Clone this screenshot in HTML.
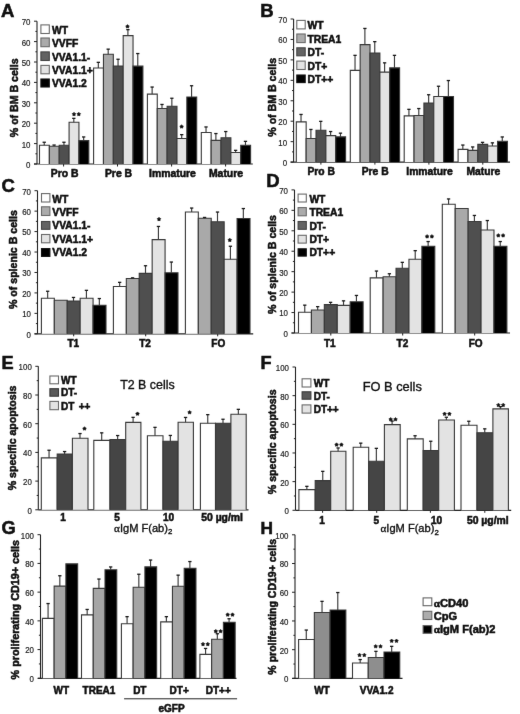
<!DOCTYPE html>
<html><head><meta charset="utf-8"><style>
html,body{margin:0;padding:0;background:#fff;}
body{width:520px;height:714px;overflow:hidden;}
svg{display:block;filter:grayscale(1);font-family:"Liberation Sans",sans-serif;}
</style></head><body>
<svg width="520" height="714" viewBox="0 0 520 714">
<defs><filter id="bl" x="0" y="0" width="1" height="1" color-interpolation-filters="sRGB"><feConvolveMatrix order="3" kernelMatrix="0.00276 0.04704 0.00276 0.04704 0.80077 0.04704 0.00276 0.04704 0.00276" divisor="1" edgeMode="duplicate" preserveAlpha="true"/></filter></defs>
<rect width="520" height="714" fill="#fff"/>
<g filter="url(#bl)">
<rect width="520" height="714" fill="#fff"/>
<text x="1" y="17" font-size="18.5" font-weight="bold" text-anchor="start" fill="#111" stroke="#111" stroke-width="0.55">A</text>
<text x="260.3" y="17" font-size="18.5" font-weight="bold" text-anchor="start" fill="#111" stroke="#111" stroke-width="0.55">B</text>
<text x="1.5" y="192.3" font-size="18.5" font-weight="bold" text-anchor="start" fill="#111" stroke="#111" stroke-width="0.55">C</text>
<text x="266.3" y="186.8" font-size="18.5" font-weight="bold" text-anchor="start" fill="#111" stroke="#111" stroke-width="0.55">D</text>
<text x="1.6" y="368.8" font-size="18.2" font-weight="bold" text-anchor="start" fill="#111" stroke="#111" stroke-width="0.55">E</text>
<text x="260.5" y="368.9" font-size="18.2" font-weight="bold" text-anchor="start" fill="#111" stroke="#111" stroke-width="0.55">F</text>
<text x="1.5" y="534" font-size="18.3" font-weight="bold" text-anchor="start" fill="#111" stroke="#111" stroke-width="0.55">G</text>
<text x="260.4" y="533.6" font-size="17.3" font-weight="bold" text-anchor="start" fill="#111" stroke="#111" stroke-width="0.55">H</text>
<line x1="37" y1="21.2" x2="37" y2="164" stroke="#222" stroke-width="1.1"/>
<line x1="34" y1="164" x2="252.8" y2="164" stroke="#222" stroke-width="1.2"/>
<line x1="34" y1="164" x2="37" y2="164" stroke="#222" stroke-width="1"/>
<text transform="translate(30.5,167.91) scale(0.85,1)" font-size="9.3" text-anchor="end" fill="#222" stroke="#222" stroke-width="0.2">0</text>
<line x1="35.4" y1="153.8" x2="37" y2="153.8" stroke="#222" stroke-width="1"/>
<line x1="34" y1="143.6" x2="37" y2="143.6" stroke="#222" stroke-width="1"/>
<text transform="translate(30.5,147.51) scale(0.85,1)" font-size="9.3" text-anchor="end" fill="#222" stroke="#222" stroke-width="0.2">10</text>
<line x1="35.4" y1="133.4" x2="37" y2="133.4" stroke="#222" stroke-width="1"/>
<line x1="34" y1="123.2" x2="37" y2="123.2" stroke="#222" stroke-width="1"/>
<text transform="translate(30.5,127.11) scale(0.85,1)" font-size="9.3" text-anchor="end" fill="#222" stroke="#222" stroke-width="0.2">20</text>
<line x1="35.4" y1="113" x2="37" y2="113" stroke="#222" stroke-width="1"/>
<line x1="34" y1="102.8" x2="37" y2="102.8" stroke="#222" stroke-width="1"/>
<text transform="translate(30.5,106.71) scale(0.85,1)" font-size="9.3" text-anchor="end" fill="#222" stroke="#222" stroke-width="0.2">30</text>
<line x1="35.4" y1="92.6" x2="37" y2="92.6" stroke="#222" stroke-width="1"/>
<line x1="34" y1="82.4" x2="37" y2="82.4" stroke="#222" stroke-width="1"/>
<text transform="translate(30.5,86.31) scale(0.85,1)" font-size="9.3" text-anchor="end" fill="#222" stroke="#222" stroke-width="0.2">40</text>
<line x1="35.4" y1="72.2" x2="37" y2="72.2" stroke="#222" stroke-width="1"/>
<line x1="34" y1="62" x2="37" y2="62" stroke="#222" stroke-width="1"/>
<text transform="translate(30.5,65.91) scale(0.85,1)" font-size="9.3" text-anchor="end" fill="#222" stroke="#222" stroke-width="0.2">50</text>
<line x1="35.4" y1="51.8" x2="37" y2="51.8" stroke="#222" stroke-width="1"/>
<line x1="34" y1="41.6" x2="37" y2="41.6" stroke="#222" stroke-width="1"/>
<text transform="translate(30.5,45.51) scale(0.85,1)" font-size="9.3" text-anchor="end" fill="#222" stroke="#222" stroke-width="0.2">60</text>
<line x1="35.4" y1="31.4" x2="37" y2="31.4" stroke="#222" stroke-width="1"/>
<line x1="34" y1="21.2" x2="37" y2="21.2" stroke="#222" stroke-width="1"/>
<text transform="translate(30.5,25.11) scale(0.85,1)" font-size="9.3" text-anchor="end" fill="#222" stroke="#222" stroke-width="0.2">70</text>
<line x1="63.6" y1="164" x2="63.6" y2="166.5" stroke="#222" stroke-width="1"/>
<line x1="117.5" y1="164" x2="117.5" y2="166.5" stroke="#222" stroke-width="1"/>
<line x1="171.6" y1="164" x2="171.6" y2="166.5" stroke="#222" stroke-width="1"/>
<line x1="225.6" y1="164" x2="225.6" y2="166.5" stroke="#222" stroke-width="1"/>
<rect x="39.5" y="145.3" width="9.86" height="18.7" fill="#ffffff"/>
<path d="M39.5 164V145.3H49.36V164" fill="none" stroke="#383838" stroke-width="1.1"/>
<line x1="44.23" y1="142.2" x2="44.23" y2="145.3" stroke="#3a3a3a" stroke-width="1.15"/>
<rect x="42.58" y="141.6" width="3.3" height="1.3" fill="#1a1a1a"/>
<rect x="49.36" y="146.3" width="9.86" height="17.7" fill="#a9a9a9"/>
<path d="M49.36 164V146.3H59.22V164" fill="none" stroke="#383838" stroke-width="1.1"/>
<line x1="54.09" y1="145" x2="54.09" y2="146.3" stroke="#3a3a3a" stroke-width="1.15"/>
<rect x="52.44" y="144.4" width="3.3" height="1.3" fill="#1a1a1a"/>
<rect x="59.22" y="145.3" width="9.86" height="18.7" fill="#4f4f4f"/>
<path d="M59.22 164V145.3H69.08V164" fill="none" stroke="#383838" stroke-width="1.1"/>
<line x1="63.95" y1="142.2" x2="63.95" y2="145.3" stroke="#3a3a3a" stroke-width="1.15"/>
<rect x="62.3" y="141.6" width="3.3" height="1.3" fill="#1a1a1a"/>
<rect x="69.08" y="122.3" width="9.86" height="41.7" fill="#e3e3e3"/>
<path d="M69.08 164V122.3H78.94V164" fill="none" stroke="#383838" stroke-width="1.1"/>
<line x1="73.81" y1="118.3" x2="73.81" y2="122.3" stroke="#3a3a3a" stroke-width="1.15"/>
<rect x="72.16" y="117.7" width="3.3" height="1.3" fill="#1a1a1a"/>
<rect x="78.94" y="140.6" width="9.86" height="23.4" fill="#000000"/>
<path d="M78.94 164V140.6H88.8V164" fill="none" stroke="#383838" stroke-width="1.1"/>
<line x1="83.67" y1="136.9" x2="83.67" y2="140.6" stroke="#3a3a3a" stroke-width="1.15"/>
<rect x="82.02" y="136.3" width="3.3" height="1.3" fill="#1a1a1a"/>
<rect x="93.6" y="68" width="9.86" height="96" fill="#ffffff"/>
<path d="M93.6 164V68H103.46V164" fill="none" stroke="#383838" stroke-width="1.1"/>
<line x1="98.33" y1="62.3" x2="98.33" y2="68" stroke="#3a3a3a" stroke-width="1.15"/>
<rect x="96.68" y="61.7" width="3.3" height="1.3" fill="#1a1a1a"/>
<rect x="103.46" y="54.2" width="9.86" height="109.8" fill="#a9a9a9"/>
<path d="M103.46 164V54.2H113.32V164" fill="none" stroke="#383838" stroke-width="1.1"/>
<line x1="108.19" y1="49.1" x2="108.19" y2="54.2" stroke="#3a3a3a" stroke-width="1.15"/>
<rect x="106.54" y="48.5" width="3.3" height="1.3" fill="#1a1a1a"/>
<rect x="113.32" y="66.1" width="9.86" height="97.9" fill="#4f4f4f"/>
<path d="M113.32 164V66.1H123.18V164" fill="none" stroke="#383838" stroke-width="1.1"/>
<line x1="118.05" y1="59.2" x2="118.05" y2="66.1" stroke="#3a3a3a" stroke-width="1.15"/>
<rect x="116.4" y="58.6" width="3.3" height="1.3" fill="#1a1a1a"/>
<rect x="123.18" y="35.6" width="9.86" height="128.4" fill="#e3e3e3"/>
<path d="M123.18 164V35.6H133.04V164" fill="none" stroke="#383838" stroke-width="1.1"/>
<line x1="127.91" y1="29.6" x2="127.91" y2="35.6" stroke="#3a3a3a" stroke-width="1.15"/>
<rect x="126.26" y="29" width="3.3" height="1.3" fill="#1a1a1a"/>
<rect x="133.04" y="66.1" width="9.86" height="97.9" fill="#000000"/>
<path d="M133.04 164V66.1H142.9V164" fill="none" stroke="#383838" stroke-width="1.1"/>
<line x1="137.77" y1="53.5" x2="137.77" y2="66.1" stroke="#3a3a3a" stroke-width="1.15"/>
<rect x="136.12" y="52.9" width="3.3" height="1.3" fill="#1a1a1a"/>
<rect x="147.4" y="94.1" width="9.86" height="69.9" fill="#ffffff"/>
<path d="M147.4 164V94.1H157.26V164" fill="none" stroke="#383838" stroke-width="1.1"/>
<line x1="152.13" y1="87" x2="152.13" y2="94.1" stroke="#3a3a3a" stroke-width="1.15"/>
<rect x="150.48" y="86.4" width="3.3" height="1.3" fill="#1a1a1a"/>
<rect x="157.26" y="108.5" width="9.86" height="55.5" fill="#a9a9a9"/>
<path d="M157.26 164V108.5H167.12V164" fill="none" stroke="#383838" stroke-width="1.1"/>
<line x1="161.99" y1="104.4" x2="161.99" y2="108.5" stroke="#3a3a3a" stroke-width="1.15"/>
<rect x="160.34" y="103.8" width="3.3" height="1.3" fill="#1a1a1a"/>
<rect x="167.12" y="106.2" width="9.86" height="57.8" fill="#4f4f4f"/>
<path d="M167.12 164V106.2H176.98V164" fill="none" stroke="#383838" stroke-width="1.1"/>
<line x1="171.85" y1="98.2" x2="171.85" y2="106.2" stroke="#3a3a3a" stroke-width="1.15"/>
<rect x="170.2" y="97.6" width="3.3" height="1.3" fill="#1a1a1a"/>
<rect x="176.98" y="138.5" width="9.86" height="25.5" fill="#e3e3e3"/>
<path d="M176.98 164V138.5H186.84V164" fill="none" stroke="#383838" stroke-width="1.1"/>
<line x1="181.71" y1="134.6" x2="181.71" y2="138.5" stroke="#3a3a3a" stroke-width="1.15"/>
<rect x="180.06" y="134" width="3.3" height="1.3" fill="#1a1a1a"/>
<rect x="186.84" y="97" width="9.86" height="67" fill="#000000"/>
<path d="M186.84 164V97H196.7V164" fill="none" stroke="#383838" stroke-width="1.1"/>
<line x1="191.57" y1="85.7" x2="191.57" y2="97" stroke="#3a3a3a" stroke-width="1.15"/>
<rect x="189.92" y="85.1" width="3.3" height="1.3" fill="#1a1a1a"/>
<rect x="201.3" y="132.5" width="9.86" height="31.5" fill="#ffffff"/>
<path d="M201.3 164V132.5H211.16V164" fill="none" stroke="#383838" stroke-width="1.1"/>
<line x1="206.03" y1="126.9" x2="206.03" y2="132.5" stroke="#3a3a3a" stroke-width="1.15"/>
<rect x="204.38" y="126.3" width="3.3" height="1.3" fill="#1a1a1a"/>
<rect x="211.16" y="140.4" width="9.86" height="23.6" fill="#a9a9a9"/>
<path d="M211.16 164V140.4H221.02V164" fill="none" stroke="#383838" stroke-width="1.1"/>
<line x1="215.89" y1="133.5" x2="215.89" y2="140.4" stroke="#3a3a3a" stroke-width="1.15"/>
<rect x="214.24" y="132.9" width="3.3" height="1.3" fill="#1a1a1a"/>
<rect x="221.02" y="137.8" width="9.86" height="26.2" fill="#4f4f4f"/>
<path d="M221.02 164V137.8H230.88V164" fill="none" stroke="#383838" stroke-width="1.1"/>
<line x1="225.75" y1="131.5" x2="225.75" y2="137.8" stroke="#3a3a3a" stroke-width="1.15"/>
<rect x="224.1" y="130.9" width="3.3" height="1.3" fill="#1a1a1a"/>
<rect x="230.88" y="152.5" width="9.86" height="11.5" fill="#e3e3e3"/>
<path d="M230.88 164V152.5H240.74V164" fill="none" stroke="#383838" stroke-width="1.1"/>
<line x1="235.61" y1="150.3" x2="235.61" y2="152.5" stroke="#3a3a3a" stroke-width="1.15"/>
<rect x="233.96" y="149.7" width="3.3" height="1.3" fill="#1a1a1a"/>
<rect x="240.74" y="145.3" width="9.86" height="18.7" fill="#000000"/>
<path d="M240.74 164V145.3H250.6V164" fill="none" stroke="#383838" stroke-width="1.1"/>
<line x1="245.47" y1="141.3" x2="245.47" y2="145.3" stroke="#3a3a3a" stroke-width="1.15"/>
<rect x="243.82" y="140.7" width="3.3" height="1.3" fill="#1a1a1a"/>
<path d="M74,112.3 L74.71,113.23 L75.81,113.61 L75.14,114.57 L75.12,115.74 L74,115.4 L72.88,115.74 L72.86,114.57 L72.19,113.61 L73.29,113.23Z" fill="#111" stroke="#111" stroke-width="0.6" stroke-linejoin="round"/>
<path d="M78.8,112.3 L79.51,113.23 L80.61,113.61 L79.94,114.57 L79.92,115.74 L78.8,115.4 L77.68,115.74 L77.66,114.57 L76.99,113.61 L78.09,113.23Z" fill="#111" stroke="#111" stroke-width="0.6" stroke-linejoin="round"/>
<path d="M127.5,24.6 L128.21,25.53 L129.31,25.91 L128.64,26.87 L128.62,28.04 L127.5,27.7 L126.38,28.04 L126.36,26.87 L125.69,25.91 L126.79,25.53Z" fill="#111" stroke="#111" stroke-width="0.6" stroke-linejoin="round"/>
<path d="M181.6,124.7 L182.31,125.63 L183.41,126.01 L182.74,126.97 L182.72,128.14 L181.6,127.8 L180.48,128.14 L180.46,126.97 L179.79,126.01 L180.89,125.63Z" fill="#111" stroke="#111" stroke-width="0.6" stroke-linejoin="round"/>
<rect x="40.9" y="24.9" width="8.4" height="8.6" fill="#ffffff" stroke="#6a6a6a" stroke-width="1.1"/>
<text x="52" y="33.6" font-size="10.3" font-weight="bold" text-anchor="start" fill="#111" stroke="#111" stroke-width="0.55">WT</text>
<rect x="40.9" y="38" width="8.4" height="8.7" fill="#ababab" stroke="#6a6a6a" stroke-width="1.1"/>
<text x="52" y="46.9" font-size="10.3" font-weight="bold" text-anchor="start" fill="#111" stroke="#111" stroke-width="0.55">VVFF</text>
<rect x="40.9" y="51.9" width="8.4" height="8.6" fill="#636363" stroke="#444" stroke-width="1.1"/>
<text x="52" y="60.5" font-size="10.3" font-weight="bold" text-anchor="start" fill="#111" stroke="#111" stroke-width="0.55">VVA1.1-</text>
<rect x="40.9" y="65.4" width="8.4" height="8.4" fill="#e3e3e3" stroke="#6a6a6a" stroke-width="1.1"/>
<text x="52" y="73.7" font-size="10.3" font-weight="bold" text-anchor="start" fill="#111" stroke="#111" stroke-width="0.55">VVA1.1+</text>
<rect x="40.9" y="79" width="8.4" height="8" fill="#000000" stroke="#111" stroke-width="1.1"/>
<text x="52" y="87.3" font-size="10.3" font-weight="bold" text-anchor="start" fill="#111" stroke="#111" stroke-width="0.55">VVA1.2</text>
<text x="64.6" y="176.5" font-size="10.4" font-weight="bold" text-anchor="middle" fill="#111" stroke="#111" stroke-width="0.55">Pro B</text>
<text x="118.5" y="176.5" font-size="10.4" font-weight="bold" text-anchor="middle" fill="#111" stroke="#111" stroke-width="0.55">Pre B</text>
<text x="172.5" y="176.5" font-size="10.4" font-weight="bold" text-anchor="middle" fill="#111" stroke="#111" stroke-width="0.55">Immature</text>
<text x="226" y="176.5" font-size="10.4" font-weight="bold" text-anchor="middle" fill="#111" stroke="#111" stroke-width="0.55">Mature</text>
<text transform="translate(18.3,97.8) rotate(-90)" x="0" y="0" font-size="10.6" font-weight="bold" text-anchor="middle" fill="#111" stroke="#111" stroke-width="0.55">% of BM B cells</text>
<line x1="293.6" y1="19" x2="293.6" y2="162.1" stroke="#222" stroke-width="1.1"/>
<line x1="290.6" y1="162.1" x2="510" y2="162.1" stroke="#222" stroke-width="1.2"/>
<line x1="290.6" y1="162.1" x2="293.6" y2="162.1" stroke="#222" stroke-width="1"/>
<text transform="translate(287.1,166.01) scale(0.85,1)" font-size="9.3" text-anchor="end" fill="#222" stroke="#222" stroke-width="0.2">0</text>
<line x1="292" y1="151.88" x2="293.6" y2="151.88" stroke="#222" stroke-width="1"/>
<line x1="290.6" y1="141.66" x2="293.6" y2="141.66" stroke="#222" stroke-width="1"/>
<text transform="translate(287.1,145.56) scale(0.85,1)" font-size="9.3" text-anchor="end" fill="#222" stroke="#222" stroke-width="0.2">10</text>
<line x1="292" y1="131.44" x2="293.6" y2="131.44" stroke="#222" stroke-width="1"/>
<line x1="290.6" y1="121.21" x2="293.6" y2="121.21" stroke="#222" stroke-width="1"/>
<text transform="translate(287.1,125.12) scale(0.85,1)" font-size="9.3" text-anchor="end" fill="#222" stroke="#222" stroke-width="0.2">20</text>
<line x1="292" y1="110.99" x2="293.6" y2="110.99" stroke="#222" stroke-width="1"/>
<line x1="290.6" y1="100.77" x2="293.6" y2="100.77" stroke="#222" stroke-width="1"/>
<text transform="translate(287.1,104.68) scale(0.85,1)" font-size="9.3" text-anchor="end" fill="#222" stroke="#222" stroke-width="0.2">30</text>
<line x1="292" y1="90.55" x2="293.6" y2="90.55" stroke="#222" stroke-width="1"/>
<line x1="290.6" y1="80.33" x2="293.6" y2="80.33" stroke="#222" stroke-width="1"/>
<text transform="translate(287.1,84.23) scale(0.85,1)" font-size="9.3" text-anchor="end" fill="#222" stroke="#222" stroke-width="0.2">40</text>
<line x1="292" y1="70.11" x2="293.6" y2="70.11" stroke="#222" stroke-width="1"/>
<line x1="290.6" y1="59.89" x2="293.6" y2="59.89" stroke="#222" stroke-width="1"/>
<text transform="translate(287.1,63.79) scale(0.85,1)" font-size="9.3" text-anchor="end" fill="#222" stroke="#222" stroke-width="0.2">50</text>
<line x1="292" y1="49.66" x2="293.6" y2="49.66" stroke="#222" stroke-width="1"/>
<line x1="290.6" y1="39.44" x2="293.6" y2="39.44" stroke="#222" stroke-width="1"/>
<text transform="translate(287.1,43.35) scale(0.85,1)" font-size="9.3" text-anchor="end" fill="#222" stroke="#222" stroke-width="0.2">60</text>
<line x1="292" y1="29.22" x2="293.6" y2="29.22" stroke="#222" stroke-width="1"/>
<line x1="290.6" y1="19" x2="293.6" y2="19" stroke="#222" stroke-width="1"/>
<text transform="translate(287.1,22.91) scale(0.85,1)" font-size="9.3" text-anchor="end" fill="#222" stroke="#222" stroke-width="0.2">70</text>
<line x1="320.9" y1="162.1" x2="320.9" y2="164.6" stroke="#222" stroke-width="1"/>
<line x1="374.9" y1="162.1" x2="374.9" y2="164.6" stroke="#222" stroke-width="1"/>
<line x1="428.9" y1="162.1" x2="428.9" y2="164.6" stroke="#222" stroke-width="1"/>
<line x1="482.8" y1="162.1" x2="482.8" y2="164.6" stroke="#222" stroke-width="1"/>
<rect x="296.3" y="121.9" width="9.86" height="40.2" fill="#ffffff"/>
<path d="M296.3 162.1V121.9H306.16V162.1" fill="none" stroke="#383838" stroke-width="1.1"/>
<line x1="301.03" y1="114.4" x2="301.03" y2="121.9" stroke="#3a3a3a" stroke-width="1.15"/>
<rect x="299.38" y="113.8" width="3.3" height="1.3" fill="#1a1a1a"/>
<rect x="306.16" y="138.5" width="9.86" height="23.6" fill="#a9a9a9"/>
<path d="M306.16 162.1V138.5H316.02V162.1" fill="none" stroke="#383838" stroke-width="1.1"/>
<line x1="310.89" y1="129.4" x2="310.89" y2="138.5" stroke="#3a3a3a" stroke-width="1.15"/>
<rect x="309.24" y="128.8" width="3.3" height="1.3" fill="#1a1a1a"/>
<rect x="316.02" y="130.3" width="9.86" height="31.8" fill="#4f4f4f"/>
<path d="M316.02 162.1V130.3H325.88V162.1" fill="none" stroke="#383838" stroke-width="1.1"/>
<line x1="320.75" y1="121.3" x2="320.75" y2="130.3" stroke="#3a3a3a" stroke-width="1.15"/>
<rect x="319.1" y="120.7" width="3.3" height="1.3" fill="#1a1a1a"/>
<rect x="325.88" y="135.6" width="9.86" height="26.5" fill="#e3e3e3"/>
<path d="M325.88 162.1V135.6H335.74V162.1" fill="none" stroke="#383838" stroke-width="1.1"/>
<line x1="330.61" y1="131.5" x2="330.61" y2="135.6" stroke="#3a3a3a" stroke-width="1.15"/>
<rect x="328.96" y="130.9" width="3.3" height="1.3" fill="#1a1a1a"/>
<rect x="335.74" y="136.9" width="9.86" height="25.2" fill="#000000"/>
<path d="M335.74 162.1V136.9H345.6V162.1" fill="none" stroke="#383838" stroke-width="1.1"/>
<line x1="340.47" y1="133.1" x2="340.47" y2="136.9" stroke="#3a3a3a" stroke-width="1.15"/>
<rect x="338.82" y="132.5" width="3.3" height="1.3" fill="#1a1a1a"/>
<rect x="350.3" y="70.4" width="9.86" height="91.7" fill="#ffffff"/>
<path d="M350.3 162.1V70.4H360.16V162.1" fill="none" stroke="#383838" stroke-width="1.1"/>
<line x1="355.03" y1="55.3" x2="355.03" y2="70.4" stroke="#3a3a3a" stroke-width="1.15"/>
<rect x="353.38" y="54.7" width="3.3" height="1.3" fill="#1a1a1a"/>
<rect x="360.16" y="44.6" width="9.86" height="117.5" fill="#a9a9a9"/>
<path d="M360.16 162.1V44.6H370.02V162.1" fill="none" stroke="#383838" stroke-width="1.1"/>
<line x1="364.89" y1="28.4" x2="364.89" y2="44.6" stroke="#3a3a3a" stroke-width="1.15"/>
<rect x="363.24" y="27.8" width="3.3" height="1.3" fill="#1a1a1a"/>
<rect x="370.02" y="53.1" width="9.86" height="109" fill="#4f4f4f"/>
<path d="M370.02 162.1V53.1H379.88V162.1" fill="none" stroke="#383838" stroke-width="1.1"/>
<line x1="374.75" y1="41.6" x2="374.75" y2="53.1" stroke="#3a3a3a" stroke-width="1.15"/>
<rect x="373.1" y="41" width="3.3" height="1.3" fill="#1a1a1a"/>
<rect x="379.88" y="72.1" width="9.86" height="90" fill="#e3e3e3"/>
<path d="M379.88 162.1V72.1H389.74V162.1" fill="none" stroke="#383838" stroke-width="1.1"/>
<line x1="384.61" y1="62.8" x2="384.61" y2="72.1" stroke="#3a3a3a" stroke-width="1.15"/>
<rect x="382.96" y="62.2" width="3.3" height="1.3" fill="#1a1a1a"/>
<rect x="389.74" y="67.9" width="9.86" height="94.2" fill="#000000"/>
<path d="M389.74 162.1V67.9H399.6V162.1" fill="none" stroke="#383838" stroke-width="1.1"/>
<line x1="394.47" y1="55.3" x2="394.47" y2="67.9" stroke="#3a3a3a" stroke-width="1.15"/>
<rect x="392.82" y="54.7" width="3.3" height="1.3" fill="#1a1a1a"/>
<rect x="404.2" y="115.9" width="9.86" height="46.2" fill="#ffffff"/>
<path d="M404.2 162.1V115.9H414.06V162.1" fill="none" stroke="#383838" stroke-width="1.1"/>
<line x1="408.93" y1="109.3" x2="408.93" y2="115.9" stroke="#3a3a3a" stroke-width="1.15"/>
<rect x="407.28" y="108.7" width="3.3" height="1.3" fill="#1a1a1a"/>
<rect x="414.06" y="115.5" width="9.86" height="46.6" fill="#a9a9a9"/>
<path d="M414.06 162.1V115.5H423.92V162.1" fill="none" stroke="#383838" stroke-width="1.1"/>
<line x1="418.79" y1="108.5" x2="418.79" y2="115.5" stroke="#3a3a3a" stroke-width="1.15"/>
<rect x="417.14" y="107.9" width="3.3" height="1.3" fill="#1a1a1a"/>
<rect x="423.92" y="103.1" width="9.86" height="59" fill="#4f4f4f"/>
<path d="M423.92 162.1V103.1H433.78V162.1" fill="none" stroke="#383838" stroke-width="1.1"/>
<line x1="428.65" y1="94.7" x2="428.65" y2="103.1" stroke="#3a3a3a" stroke-width="1.15"/>
<rect x="427" y="94.1" width="3.3" height="1.3" fill="#1a1a1a"/>
<rect x="433.78" y="96.5" width="9.86" height="65.6" fill="#e3e3e3"/>
<path d="M433.78 162.1V96.5H443.64V162.1" fill="none" stroke="#383838" stroke-width="1.1"/>
<line x1="438.51" y1="86.2" x2="438.51" y2="96.5" stroke="#3a3a3a" stroke-width="1.15"/>
<rect x="436.86" y="85.6" width="3.3" height="1.3" fill="#1a1a1a"/>
<rect x="443.64" y="96.5" width="9.86" height="65.6" fill="#000000"/>
<path d="M443.64 162.1V96.5H453.5V162.1" fill="none" stroke="#383838" stroke-width="1.1"/>
<line x1="448.37" y1="80.5" x2="448.37" y2="96.5" stroke="#3a3a3a" stroke-width="1.15"/>
<rect x="446.72" y="79.9" width="3.3" height="1.3" fill="#1a1a1a"/>
<rect x="458.1" y="149.4" width="9.86" height="12.7" fill="#ffffff"/>
<path d="M458.1 162.1V149.4H467.96V162.1" fill="none" stroke="#383838" stroke-width="1.1"/>
<line x1="462.83" y1="145" x2="462.83" y2="149.4" stroke="#3a3a3a" stroke-width="1.15"/>
<rect x="461.18" y="144.4" width="3.3" height="1.3" fill="#1a1a1a"/>
<rect x="467.96" y="150.4" width="9.86" height="11.7" fill="#a9a9a9"/>
<path d="M467.96 162.1V150.4H477.82V162.1" fill="none" stroke="#383838" stroke-width="1.1"/>
<line x1="472.69" y1="146.9" x2="472.69" y2="150.4" stroke="#3a3a3a" stroke-width="1.15"/>
<rect x="471.04" y="146.3" width="3.3" height="1.3" fill="#1a1a1a"/>
<rect x="477.82" y="144.4" width="9.86" height="17.7" fill="#4f4f4f"/>
<path d="M477.82 162.1V144.4H487.68V162.1" fill="none" stroke="#383838" stroke-width="1.1"/>
<line x1="482.55" y1="142.3" x2="482.55" y2="144.4" stroke="#3a3a3a" stroke-width="1.15"/>
<rect x="480.9" y="141.7" width="3.3" height="1.3" fill="#1a1a1a"/>
<rect x="487.68" y="146" width="9.86" height="16.1" fill="#e3e3e3"/>
<path d="M487.68 162.1V146H497.54V162.1" fill="none" stroke="#383838" stroke-width="1.1"/>
<line x1="492.41" y1="142.8" x2="492.41" y2="146" stroke="#3a3a3a" stroke-width="1.15"/>
<rect x="490.76" y="142.2" width="3.3" height="1.3" fill="#1a1a1a"/>
<rect x="497.54" y="141.3" width="9.86" height="20.8" fill="#000000"/>
<path d="M497.54 162.1V141.3H507.4V162.1" fill="none" stroke="#383838" stroke-width="1.1"/>
<line x1="502.27" y1="136.9" x2="502.27" y2="141.3" stroke="#3a3a3a" stroke-width="1.15"/>
<rect x="500.62" y="136.3" width="3.3" height="1.3" fill="#1a1a1a"/>
<rect x="296.8" y="20.4" width="8.4" height="8.5" fill="#ffffff" stroke="#6a6a6a" stroke-width="1.1"/>
<text x="307.5" y="28.8" font-size="10.3" font-weight="bold" text-anchor="start" fill="#111" stroke="#111" stroke-width="0.55">WT</text>
<rect x="296.8" y="34" width="8.4" height="8.6" fill="#ababab" stroke="#6a6a6a" stroke-width="1.1"/>
<text x="307.5" y="42.5" font-size="10.3" font-weight="bold" text-anchor="start" fill="#111" stroke="#111" stroke-width="0.55">TREA1</text>
<rect x="296.8" y="47.8" width="8.4" height="8" fill="#636363" stroke="#444" stroke-width="1.1"/>
<text x="307.5" y="56.3" font-size="10.3" font-weight="bold" text-anchor="start" fill="#111" stroke="#111" stroke-width="0.55">DT-</text>
<rect x="296.8" y="61.1" width="8.4" height="8.4" fill="#e3e3e3" stroke="#6a6a6a" stroke-width="1.1"/>
<text x="307.5" y="69.6" font-size="10.3" font-weight="bold" text-anchor="start" fill="#111" stroke="#111" stroke-width="0.55">DT+</text>
<rect x="296.8" y="75" width="8.4" height="7.6" fill="#000000" stroke="#111" stroke-width="1.1"/>
<text x="307.5" y="83.1" font-size="10.3" font-weight="bold" text-anchor="start" fill="#111" stroke="#111" stroke-width="0.55">DT++</text>
<text x="321.2" y="174.6" font-size="10.3" font-weight="bold" text-anchor="middle" fill="#111" stroke="#111" stroke-width="0.55">Pro B</text>
<text x="375.2" y="174.6" font-size="10.3" font-weight="bold" text-anchor="middle" fill="#111" stroke="#111" stroke-width="0.55">Pre B</text>
<text x="429.5" y="174.6" font-size="10.3" font-weight="bold" text-anchor="middle" fill="#111" stroke="#111" stroke-width="0.55">Immature</text>
<text x="483.4" y="174.6" font-size="10.3" font-weight="bold" text-anchor="middle" fill="#111" stroke="#111" stroke-width="0.55">Mature</text>
<text transform="translate(276.3,97.3) rotate(-90)" x="0" y="0" font-size="10.6" font-weight="bold" text-anchor="middle" fill="#111" stroke="#111" stroke-width="0.55">% of BM B cells</text>
<line x1="37.5" y1="190.7" x2="37.5" y2="333.8" stroke="#222" stroke-width="1.1"/>
<line x1="34.5" y1="333.8" x2="253.2" y2="333.8" stroke="#222" stroke-width="1.2"/>
<line x1="34.5" y1="333.8" x2="37.5" y2="333.8" stroke="#222" stroke-width="1"/>
<text transform="translate(31,337.71) scale(0.85,1)" font-size="9.3" text-anchor="end" fill="#222" stroke="#222" stroke-width="0.2">0</text>
<line x1="35.9" y1="323.58" x2="37.5" y2="323.58" stroke="#222" stroke-width="1"/>
<line x1="34.5" y1="313.36" x2="37.5" y2="313.36" stroke="#222" stroke-width="1"/>
<text transform="translate(31,317.26) scale(0.85,1)" font-size="9.3" text-anchor="end" fill="#222" stroke="#222" stroke-width="0.2">10</text>
<line x1="35.9" y1="303.14" x2="37.5" y2="303.14" stroke="#222" stroke-width="1"/>
<line x1="34.5" y1="292.91" x2="37.5" y2="292.91" stroke="#222" stroke-width="1"/>
<text transform="translate(31,296.82) scale(0.85,1)" font-size="9.3" text-anchor="end" fill="#222" stroke="#222" stroke-width="0.2">20</text>
<line x1="35.9" y1="282.69" x2="37.5" y2="282.69" stroke="#222" stroke-width="1"/>
<line x1="34.5" y1="272.47" x2="37.5" y2="272.47" stroke="#222" stroke-width="1"/>
<text transform="translate(31,276.38) scale(0.85,1)" font-size="9.3" text-anchor="end" fill="#222" stroke="#222" stroke-width="0.2">30</text>
<line x1="35.9" y1="262.25" x2="37.5" y2="262.25" stroke="#222" stroke-width="1"/>
<line x1="34.5" y1="252.03" x2="37.5" y2="252.03" stroke="#222" stroke-width="1"/>
<text transform="translate(31,255.93) scale(0.85,1)" font-size="9.3" text-anchor="end" fill="#222" stroke="#222" stroke-width="0.2">40</text>
<line x1="35.9" y1="241.81" x2="37.5" y2="241.81" stroke="#222" stroke-width="1"/>
<line x1="34.5" y1="231.59" x2="37.5" y2="231.59" stroke="#222" stroke-width="1"/>
<text transform="translate(31,235.49) scale(0.85,1)" font-size="9.3" text-anchor="end" fill="#222" stroke="#222" stroke-width="0.2">50</text>
<line x1="35.9" y1="221.36" x2="37.5" y2="221.36" stroke="#222" stroke-width="1"/>
<line x1="34.5" y1="211.14" x2="37.5" y2="211.14" stroke="#222" stroke-width="1"/>
<text transform="translate(31,215.05) scale(0.85,1)" font-size="9.3" text-anchor="end" fill="#222" stroke="#222" stroke-width="0.2">60</text>
<line x1="35.9" y1="200.92" x2="37.5" y2="200.92" stroke="#222" stroke-width="1"/>
<line x1="34.5" y1="190.7" x2="37.5" y2="190.7" stroke="#222" stroke-width="1"/>
<text transform="translate(31,194.61) scale(0.85,1)" font-size="9.3" text-anchor="end" fill="#222" stroke="#222" stroke-width="0.2">70</text>
<line x1="73.7" y1="333.8" x2="73.7" y2="336.3" stroke="#222" stroke-width="1"/>
<line x1="145.7" y1="333.8" x2="145.7" y2="336.3" stroke="#222" stroke-width="1"/>
<line x1="217.7" y1="333.8" x2="217.7" y2="336.3" stroke="#222" stroke-width="1"/>
<rect x="41.4" y="298.2" width="12.92" height="35.6" fill="#ffffff"/>
<path d="M41.4 333.8V298.2H54.32V333.8" fill="none" stroke="#383838" stroke-width="1.1"/>
<line x1="47.66" y1="291.2" x2="47.66" y2="298.2" stroke="#3a3a3a" stroke-width="1.15"/>
<rect x="46.01" y="290.6" width="3.3" height="1.3" fill="#1a1a1a"/>
<rect x="54.32" y="300.3" width="12.92" height="33.5" fill="#a9a9a9"/>
<path d="M54.32 333.8V300.3H67.24V333.8" fill="none" stroke="#383838" stroke-width="1.1"/>
<rect x="67.24" y="301.1" width="12.92" height="32.7" fill="#4f4f4f"/>
<path d="M67.24 333.8V301.1H80.16V333.8" fill="none" stroke="#383838" stroke-width="1.1"/>
<line x1="73.5" y1="297.4" x2="73.5" y2="301.1" stroke="#3a3a3a" stroke-width="1.15"/>
<rect x="71.85" y="296.8" width="3.3" height="1.3" fill="#1a1a1a"/>
<rect x="80.16" y="298.2" width="12.92" height="35.6" fill="#e3e3e3"/>
<path d="M80.16 333.8V298.2H93.08V333.8" fill="none" stroke="#383838" stroke-width="1.1"/>
<line x1="86.42" y1="290.3" x2="86.42" y2="298.2" stroke="#3a3a3a" stroke-width="1.15"/>
<rect x="84.77" y="289.7" width="3.3" height="1.3" fill="#1a1a1a"/>
<rect x="93.08" y="305.4" width="12.92" height="28.4" fill="#000000"/>
<path d="M93.08 333.8V305.4H106V333.8" fill="none" stroke="#383838" stroke-width="1.1"/>
<line x1="99.34" y1="298.5" x2="99.34" y2="305.4" stroke="#3a3a3a" stroke-width="1.15"/>
<rect x="97.69" y="297.9" width="3.3" height="1.3" fill="#1a1a1a"/>
<rect x="113.4" y="286.5" width="12.92" height="47.3" fill="#ffffff"/>
<path d="M113.4 333.8V286.5H126.32V333.8" fill="none" stroke="#383838" stroke-width="1.1"/>
<line x1="119.66" y1="282.3" x2="119.66" y2="286.5" stroke="#3a3a3a" stroke-width="1.15"/>
<rect x="118.01" y="281.7" width="3.3" height="1.3" fill="#1a1a1a"/>
<rect x="126.32" y="278.5" width="12.92" height="55.3" fill="#a9a9a9"/>
<path d="M126.32 333.8V278.5H139.24V333.8" fill="none" stroke="#383838" stroke-width="1.1"/>
<line x1="132.58" y1="277.8" x2="132.58" y2="278.5" stroke="#3a3a3a" stroke-width="1.15"/>
<rect x="130.93" y="277.2" width="3.3" height="1.3" fill="#1a1a1a"/>
<rect x="139.24" y="273.4" width="12.92" height="60.4" fill="#4f4f4f"/>
<path d="M139.24 333.8V273.4H152.16V333.8" fill="none" stroke="#383838" stroke-width="1.1"/>
<line x1="145.5" y1="265.7" x2="145.5" y2="273.4" stroke="#3a3a3a" stroke-width="1.15"/>
<rect x="143.85" y="265.1" width="3.3" height="1.3" fill="#1a1a1a"/>
<rect x="152.16" y="239.6" width="12.92" height="94.2" fill="#e3e3e3"/>
<path d="M152.16 333.8V239.6H165.08V333.8" fill="none" stroke="#383838" stroke-width="1.1"/>
<line x1="158.42" y1="226.4" x2="158.42" y2="239.6" stroke="#3a3a3a" stroke-width="1.15"/>
<rect x="156.77" y="225.8" width="3.3" height="1.3" fill="#1a1a1a"/>
<rect x="165.08" y="272.8" width="12.92" height="61" fill="#000000"/>
<path d="M165.08 333.8V272.8H178V333.8" fill="none" stroke="#383838" stroke-width="1.1"/>
<line x1="171.34" y1="262" x2="171.34" y2="272.8" stroke="#3a3a3a" stroke-width="1.15"/>
<rect x="169.69" y="261.4" width="3.3" height="1.3" fill="#1a1a1a"/>
<rect x="185.4" y="212" width="12.92" height="121.8" fill="#ffffff"/>
<path d="M185.4 333.8V212H198.32V333.8" fill="none" stroke="#383838" stroke-width="1.1"/>
<line x1="191.66" y1="208" x2="191.66" y2="212" stroke="#3a3a3a" stroke-width="1.15"/>
<rect x="190.01" y="207.4" width="3.3" height="1.3" fill="#1a1a1a"/>
<rect x="198.32" y="218.2" width="12.92" height="115.6" fill="#a9a9a9"/>
<path d="M198.32 333.8V218.2H211.24V333.8" fill="none" stroke="#383838" stroke-width="1.1"/>
<line x1="204.58" y1="217.4" x2="204.58" y2="218.2" stroke="#3a3a3a" stroke-width="1.15"/>
<rect x="202.93" y="216.8" width="3.3" height="1.3" fill="#1a1a1a"/>
<rect x="211.24" y="221.8" width="12.92" height="112" fill="#4f4f4f"/>
<path d="M211.24 333.8V221.8H224.16V333.8" fill="none" stroke="#383838" stroke-width="1.1"/>
<line x1="217.5" y1="212" x2="217.5" y2="221.8" stroke="#3a3a3a" stroke-width="1.15"/>
<rect x="215.85" y="211.4" width="3.3" height="1.3" fill="#1a1a1a"/>
<rect x="224.16" y="259.2" width="12.92" height="74.6" fill="#e3e3e3"/>
<path d="M224.16 333.8V259.2H237.08V333.8" fill="none" stroke="#383838" stroke-width="1.1"/>
<line x1="230.42" y1="246.2" x2="230.42" y2="259.2" stroke="#3a3a3a" stroke-width="1.15"/>
<rect x="228.77" y="245.6" width="3.3" height="1.3" fill="#1a1a1a"/>
<rect x="237.08" y="218.5" width="12.92" height="115.3" fill="#000000"/>
<path d="M237.08 333.8V218.5H250V333.8" fill="none" stroke="#383838" stroke-width="1.1"/>
<line x1="243.34" y1="208.5" x2="243.34" y2="218.5" stroke="#3a3a3a" stroke-width="1.15"/>
<rect x="241.69" y="207.9" width="3.3" height="1.3" fill="#1a1a1a"/>
<path d="M159,217.3 L159.71,218.23 L160.81,218.61 L160.14,219.57 L160.12,220.74 L159,220.4 L157.88,220.74 L157.86,219.57 L157.19,218.61 L158.29,218.23Z" fill="#111" stroke="#111" stroke-width="0.6" stroke-linejoin="round"/>
<path d="M229.8,238.2 L230.51,239.13 L231.61,239.51 L230.94,240.47 L230.92,241.64 L229.8,241.3 L228.68,241.64 L228.66,240.47 L227.99,239.51 L229.09,239.13Z" fill="#111" stroke="#111" stroke-width="0.6" stroke-linejoin="round"/>
<rect x="41.5" y="193.6" width="8.4" height="8.4" fill="#ffffff" stroke="#6a6a6a" stroke-width="1.1"/>
<text x="52.3" y="202.5" font-size="10.3" font-weight="bold" text-anchor="start" fill="#111" stroke="#111" stroke-width="0.55">WT</text>
<rect x="41.5" y="206.8" width="8.4" height="8.7" fill="#ababab" stroke="#6a6a6a" stroke-width="1.1"/>
<text x="52.3" y="215.6" font-size="10.3" font-weight="bold" text-anchor="start" fill="#111" stroke="#111" stroke-width="0.55">VVFF</text>
<rect x="41.5" y="221.5" width="8.4" height="7.8" fill="#636363" stroke="#444" stroke-width="1.1"/>
<text x="52.3" y="229.4" font-size="10.3" font-weight="bold" text-anchor="start" fill="#111" stroke="#111" stroke-width="0.55">VVA1.1-</text>
<rect x="41.5" y="234.5" width="8.4" height="8.3" fill="#e3e3e3" stroke="#6a6a6a" stroke-width="1.1"/>
<text x="52.3" y="243.1" font-size="10.3" font-weight="bold" text-anchor="start" fill="#111" stroke="#111" stroke-width="0.55">VVA1.1+</text>
<rect x="41.5" y="248.6" width="8.4" height="7.8" fill="#000000" stroke="#111" stroke-width="1.1"/>
<text x="52.3" y="256.3" font-size="10.3" font-weight="bold" text-anchor="start" fill="#111" stroke="#111" stroke-width="0.55">VVA1.2</text>
<text x="73.3" y="346.8" font-size="10" font-weight="bold" text-anchor="middle" fill="#111" stroke="#111" stroke-width="0.55">T1</text>
<text x="145" y="346.8" font-size="10" font-weight="bold" text-anchor="middle" fill="#111" stroke="#111" stroke-width="0.55">T2</text>
<text x="218.3" y="346.8" font-size="10" font-weight="bold" text-anchor="middle" fill="#111" stroke="#111" stroke-width="0.55">FO</text>
<text transform="translate(16.6,259.6) rotate(-90)" x="0" y="0" font-size="10.6" font-weight="bold" text-anchor="middle" fill="#111" stroke="#111" stroke-width="0.55">% of splenic B cells</text>
<line x1="294.5" y1="189.9" x2="294.5" y2="333" stroke="#222" stroke-width="1.1"/>
<line x1="291.5" y1="333" x2="510" y2="333" stroke="#222" stroke-width="1.2"/>
<line x1="291.5" y1="333" x2="294.5" y2="333" stroke="#222" stroke-width="1"/>
<text transform="translate(288,336.91) scale(0.85,1)" font-size="9.3" text-anchor="end" fill="#222" stroke="#222" stroke-width="0.2">0</text>
<line x1="292.9" y1="322.78" x2="294.5" y2="322.78" stroke="#222" stroke-width="1"/>
<line x1="291.5" y1="312.56" x2="294.5" y2="312.56" stroke="#222" stroke-width="1"/>
<text transform="translate(288,316.46) scale(0.85,1)" font-size="9.3" text-anchor="end" fill="#222" stroke="#222" stroke-width="0.2">10</text>
<line x1="292.9" y1="302.34" x2="294.5" y2="302.34" stroke="#222" stroke-width="1"/>
<line x1="291.5" y1="292.11" x2="294.5" y2="292.11" stroke="#222" stroke-width="1"/>
<text transform="translate(288,296.02) scale(0.85,1)" font-size="9.3" text-anchor="end" fill="#222" stroke="#222" stroke-width="0.2">20</text>
<line x1="292.9" y1="281.89" x2="294.5" y2="281.89" stroke="#222" stroke-width="1"/>
<line x1="291.5" y1="271.67" x2="294.5" y2="271.67" stroke="#222" stroke-width="1"/>
<text transform="translate(288,275.58) scale(0.85,1)" font-size="9.3" text-anchor="end" fill="#222" stroke="#222" stroke-width="0.2">30</text>
<line x1="292.9" y1="261.45" x2="294.5" y2="261.45" stroke="#222" stroke-width="1"/>
<line x1="291.5" y1="251.23" x2="294.5" y2="251.23" stroke="#222" stroke-width="1"/>
<text transform="translate(288,255.13) scale(0.85,1)" font-size="9.3" text-anchor="end" fill="#222" stroke="#222" stroke-width="0.2">40</text>
<line x1="292.9" y1="241.01" x2="294.5" y2="241.01" stroke="#222" stroke-width="1"/>
<line x1="291.5" y1="230.79" x2="294.5" y2="230.79" stroke="#222" stroke-width="1"/>
<text transform="translate(288,234.69) scale(0.85,1)" font-size="9.3" text-anchor="end" fill="#222" stroke="#222" stroke-width="0.2">50</text>
<line x1="292.9" y1="220.56" x2="294.5" y2="220.56" stroke="#222" stroke-width="1"/>
<line x1="291.5" y1="210.34" x2="294.5" y2="210.34" stroke="#222" stroke-width="1"/>
<text transform="translate(288,214.25) scale(0.85,1)" font-size="9.3" text-anchor="end" fill="#222" stroke="#222" stroke-width="0.2">60</text>
<line x1="292.9" y1="200.12" x2="294.5" y2="200.12" stroke="#222" stroke-width="1"/>
<line x1="291.5" y1="189.9" x2="294.5" y2="189.9" stroke="#222" stroke-width="1"/>
<text transform="translate(288,193.81) scale(0.85,1)" font-size="9.3" text-anchor="end" fill="#222" stroke="#222" stroke-width="0.2">70</text>
<line x1="330.8" y1="333" x2="330.8" y2="335.5" stroke="#222" stroke-width="1"/>
<line x1="402.7" y1="333" x2="402.7" y2="335.5" stroke="#222" stroke-width="1"/>
<line x1="474.7" y1="333" x2="474.7" y2="335.5" stroke="#222" stroke-width="1"/>
<rect x="298.5" y="312.3" width="12.92" height="20.7" fill="#ffffff"/>
<path d="M298.5 333V312.3H311.42V333" fill="none" stroke="#383838" stroke-width="1.1"/>
<line x1="304.76" y1="305.1" x2="304.76" y2="312.3" stroke="#3a3a3a" stroke-width="1.15"/>
<rect x="303.11" y="304.5" width="3.3" height="1.3" fill="#1a1a1a"/>
<rect x="311.42" y="310" width="12.92" height="23" fill="#a9a9a9"/>
<path d="M311.42 333V310H324.34V333" fill="none" stroke="#383838" stroke-width="1.1"/>
<line x1="317.68" y1="306.6" x2="317.68" y2="310" stroke="#3a3a3a" stroke-width="1.15"/>
<rect x="316.03" y="306" width="3.3" height="1.3" fill="#1a1a1a"/>
<rect x="324.34" y="304.6" width="12.92" height="28.4" fill="#4f4f4f"/>
<path d="M324.34 333V304.6H337.26V333" fill="none" stroke="#383838" stroke-width="1.1"/>
<line x1="330.6" y1="302.3" x2="330.6" y2="304.6" stroke="#3a3a3a" stroke-width="1.15"/>
<rect x="328.95" y="301.7" width="3.3" height="1.3" fill="#1a1a1a"/>
<rect x="337.26" y="305.4" width="12.92" height="27.6" fill="#e3e3e3"/>
<path d="M337.26 333V305.4H350.18V333" fill="none" stroke="#383838" stroke-width="1.1"/>
<line x1="343.52" y1="300.8" x2="343.52" y2="305.4" stroke="#3a3a3a" stroke-width="1.15"/>
<rect x="341.87" y="300.2" width="3.3" height="1.3" fill="#1a1a1a"/>
<rect x="350.18" y="301.8" width="12.92" height="31.2" fill="#000000"/>
<path d="M350.18 333V301.8H363.1V333" fill="none" stroke="#383838" stroke-width="1.1"/>
<line x1="356.44" y1="295.4" x2="356.44" y2="301.8" stroke="#3a3a3a" stroke-width="1.15"/>
<rect x="354.79" y="294.8" width="3.3" height="1.3" fill="#1a1a1a"/>
<rect x="370.2" y="277.9" width="12.92" height="55.1" fill="#ffffff"/>
<path d="M370.2 333V277.9H383.12V333" fill="none" stroke="#383838" stroke-width="1.1"/>
<line x1="376.46" y1="271" x2="376.46" y2="277.9" stroke="#3a3a3a" stroke-width="1.15"/>
<rect x="374.81" y="270.4" width="3.3" height="1.3" fill="#1a1a1a"/>
<rect x="383.12" y="276.8" width="12.92" height="56.2" fill="#a9a9a9"/>
<path d="M383.12 333V276.8H396.04V333" fill="none" stroke="#383838" stroke-width="1.1"/>
<line x1="389.38" y1="273.7" x2="389.38" y2="276.8" stroke="#3a3a3a" stroke-width="1.15"/>
<rect x="387.73" y="273.1" width="3.3" height="1.3" fill="#1a1a1a"/>
<rect x="396.04" y="268.3" width="12.92" height="64.7" fill="#4f4f4f"/>
<path d="M396.04 333V268.3H408.96V333" fill="none" stroke="#383838" stroke-width="1.1"/>
<line x1="402.3" y1="262.3" x2="402.3" y2="268.3" stroke="#3a3a3a" stroke-width="1.15"/>
<rect x="400.65" y="261.7" width="3.3" height="1.3" fill="#1a1a1a"/>
<rect x="408.96" y="259.2" width="12.92" height="73.8" fill="#e3e3e3"/>
<path d="M408.96 333V259.2H421.88V333" fill="none" stroke="#383838" stroke-width="1.1"/>
<line x1="415.22" y1="250.6" x2="415.22" y2="259.2" stroke="#3a3a3a" stroke-width="1.15"/>
<rect x="413.57" y="250" width="3.3" height="1.3" fill="#1a1a1a"/>
<rect x="421.88" y="246.4" width="12.92" height="86.6" fill="#000000"/>
<path d="M421.88 333V246.4H434.8V333" fill="none" stroke="#383838" stroke-width="1.1"/>
<line x1="428.14" y1="241.5" x2="428.14" y2="246.4" stroke="#3a3a3a" stroke-width="1.15"/>
<rect x="426.49" y="240.9" width="3.3" height="1.3" fill="#1a1a1a"/>
<rect x="442.3" y="204.3" width="12.92" height="128.7" fill="#ffffff"/>
<path d="M442.3 333V204.3H455.22V333" fill="none" stroke="#383838" stroke-width="1.1"/>
<line x1="448.56" y1="198.9" x2="448.56" y2="204.3" stroke="#3a3a3a" stroke-width="1.15"/>
<rect x="446.91" y="198.3" width="3.3" height="1.3" fill="#1a1a1a"/>
<rect x="455.22" y="208.5" width="12.92" height="124.5" fill="#a9a9a9"/>
<path d="M455.22 333V208.5H468.14V333" fill="none" stroke="#383838" stroke-width="1.1"/>
<rect x="468.14" y="221.5" width="12.92" height="111.5" fill="#4f4f4f"/>
<path d="M468.14 333V221.5H481.06V333" fill="none" stroke="#383838" stroke-width="1.1"/>
<line x1="474.4" y1="215.4" x2="474.4" y2="221.5" stroke="#3a3a3a" stroke-width="1.15"/>
<rect x="472.75" y="214.8" width="3.3" height="1.3" fill="#1a1a1a"/>
<rect x="481.06" y="230" width="12.92" height="103" fill="#e3e3e3"/>
<path d="M481.06 333V230H493.98V333" fill="none" stroke="#383838" stroke-width="1.1"/>
<line x1="487.32" y1="220.5" x2="487.32" y2="230" stroke="#3a3a3a" stroke-width="1.15"/>
<rect x="485.67" y="219.9" width="3.3" height="1.3" fill="#1a1a1a"/>
<rect x="493.98" y="246.2" width="12.92" height="86.8" fill="#000000"/>
<path d="M493.98 333V246.2H506.9V333" fill="none" stroke="#383838" stroke-width="1.1"/>
<line x1="500.24" y1="241.5" x2="500.24" y2="246.2" stroke="#3a3a3a" stroke-width="1.15"/>
<rect x="498.59" y="240.9" width="3.3" height="1.3" fill="#1a1a1a"/>
<path d="M427.1,234.6 L427.81,235.53 L428.91,235.91 L428.24,236.87 L428.22,238.04 L427.1,237.7 L425.98,238.04 L425.96,236.87 L425.29,235.91 L426.39,235.53Z" fill="#111" stroke="#111" stroke-width="0.6" stroke-linejoin="round"/>
<path d="M431.9,234.6 L432.61,235.53 L433.71,235.91 L433.04,236.87 L433.02,238.04 L431.9,237.7 L430.78,238.04 L430.76,236.87 L430.09,235.91 L431.19,235.53Z" fill="#111" stroke="#111" stroke-width="0.6" stroke-linejoin="round"/>
<path d="M498.3,233.6 L499.01,234.53 L500.11,234.91 L499.44,235.87 L499.42,237.04 L498.3,236.7 L497.18,237.04 L497.16,235.87 L496.49,234.91 L497.59,234.53Z" fill="#111" stroke="#111" stroke-width="0.6" stroke-linejoin="round"/>
<path d="M503.1,233.6 L503.81,234.53 L504.91,234.91 L504.24,235.87 L504.22,237.04 L503.1,236.7 L501.98,237.04 L501.96,235.87 L501.29,234.91 L502.39,234.53Z" fill="#111" stroke="#111" stroke-width="0.6" stroke-linejoin="round"/>
<rect x="298.1" y="194.1" width="8.2" height="7.9" fill="#ffffff" stroke="#6a6a6a" stroke-width="1.1"/>
<text x="309.4" y="202.5" font-size="10.3" font-weight="bold" text-anchor="start" fill="#111" stroke="#111" stroke-width="0.55">WT</text>
<rect x="298.1" y="207.6" width="8.2" height="8.2" fill="#ababab" stroke="#6a6a6a" stroke-width="1.1"/>
<text x="309.4" y="216" font-size="10.3" font-weight="bold" text-anchor="start" fill="#111" stroke="#111" stroke-width="0.55">TREA1</text>
<rect x="298.1" y="221.5" width="8.2" height="7.8" fill="#636363" stroke="#444" stroke-width="1.1"/>
<text x="309.4" y="229.6" font-size="10.3" font-weight="bold" text-anchor="start" fill="#111" stroke="#111" stroke-width="0.55">DT-</text>
<rect x="298.1" y="235.3" width="8.2" height="7.8" fill="#e3e3e3" stroke="#6a6a6a" stroke-width="1.1"/>
<text x="309.4" y="243.4" font-size="10.3" font-weight="bold" text-anchor="start" fill="#111" stroke="#111" stroke-width="0.55">DT+</text>
<rect x="298.1" y="248.8" width="8.2" height="7.3" fill="#000000" stroke="#111" stroke-width="1.1"/>
<text x="309.4" y="256.3" font-size="10.3" font-weight="bold" text-anchor="start" fill="#111" stroke="#111" stroke-width="0.55">DT++</text>
<text x="329.8" y="346.9" font-size="10" font-weight="bold" text-anchor="middle" fill="#111" stroke="#111" stroke-width="0.55">T1</text>
<text x="402.4" y="346.9" font-size="10" font-weight="bold" text-anchor="middle" fill="#111" stroke="#111" stroke-width="0.55">T2</text>
<text x="475.6" y="346.9" font-size="10" font-weight="bold" text-anchor="middle" fill="#111" stroke="#111" stroke-width="0.55">FO</text>
<text transform="translate(275.5,264.5) rotate(-90)" x="0" y="0" font-size="10.6" font-weight="bold" text-anchor="middle" fill="#111" stroke="#111" stroke-width="0.55">% of splenic B cells</text>
<line x1="38.3" y1="366.3" x2="38.3" y2="509.8" stroke="#222" stroke-width="1.1"/>
<line x1="38.3" y1="509.8" x2="248.5" y2="509.8" stroke="#222" stroke-width="1.2"/>
<line x1="35.3" y1="509.8" x2="38.3" y2="509.8" stroke="#222" stroke-width="1"/>
<text transform="translate(31.8,513.71) scale(0.85,1)" font-size="9.3" text-anchor="end" fill="#222" stroke="#222" stroke-width="0.2">0</text>
<line x1="36.7" y1="495.45" x2="38.3" y2="495.45" stroke="#222" stroke-width="1"/>
<line x1="35.3" y1="481.1" x2="38.3" y2="481.1" stroke="#222" stroke-width="1"/>
<text transform="translate(31.8,485.01) scale(0.85,1)" font-size="9.3" text-anchor="end" fill="#222" stroke="#222" stroke-width="0.2">20</text>
<line x1="36.7" y1="466.75" x2="38.3" y2="466.75" stroke="#222" stroke-width="1"/>
<line x1="35.3" y1="452.4" x2="38.3" y2="452.4" stroke="#222" stroke-width="1"/>
<text transform="translate(31.8,456.31) scale(0.85,1)" font-size="9.3" text-anchor="end" fill="#222" stroke="#222" stroke-width="0.2">40</text>
<line x1="36.7" y1="438.05" x2="38.3" y2="438.05" stroke="#222" stroke-width="1"/>
<line x1="35.3" y1="423.7" x2="38.3" y2="423.7" stroke="#222" stroke-width="1"/>
<text transform="translate(31.8,427.61) scale(0.85,1)" font-size="9.3" text-anchor="end" fill="#222" stroke="#222" stroke-width="0.2">60</text>
<line x1="36.7" y1="409.35" x2="38.3" y2="409.35" stroke="#222" stroke-width="1"/>
<line x1="35.3" y1="395" x2="38.3" y2="395" stroke="#222" stroke-width="1"/>
<text transform="translate(31.8,398.91) scale(0.85,1)" font-size="9.3" text-anchor="end" fill="#222" stroke="#222" stroke-width="0.2">80</text>
<line x1="36.7" y1="380.65" x2="38.3" y2="380.65" stroke="#222" stroke-width="1"/>
<line x1="35.3" y1="366.3" x2="38.3" y2="366.3" stroke="#222" stroke-width="1"/>
<text transform="translate(31.8,370.21) scale(0.85,1)" font-size="9.3" text-anchor="end" fill="#222" stroke="#222" stroke-width="0.2">100</text>
<rect x="41.3" y="457.9" width="15.9" height="51.9" fill="#ffffff"/>
<path d="M41.3 509.8V457.9H57.2V509.8" fill="none" stroke="#383838" stroke-width="1.1"/>
<line x1="49.05" y1="450.2" x2="49.05" y2="457.9" stroke="#3a3a3a" stroke-width="1.15"/>
<rect x="47.4" y="449.6" width="3.3" height="1.3" fill="#1a1a1a"/>
<rect x="57.2" y="454" width="15.2" height="55.8" fill="#454545"/>
<path d="M57.2 509.8V454H72.4V509.8" fill="none" stroke="#383838" stroke-width="1.1"/>
<line x1="64.6" y1="451.5" x2="64.6" y2="454" stroke="#3a3a3a" stroke-width="1.15"/>
<rect x="62.95" y="450.9" width="3.3" height="1.3" fill="#1a1a1a"/>
<rect x="72.4" y="438.3" width="15.6" height="71.5" fill="#e3e3e3"/>
<path d="M72.4 509.8V438.3H88V509.8" fill="none" stroke="#383838" stroke-width="1.1"/>
<line x1="80" y1="433.5" x2="80" y2="438.3" stroke="#3a3a3a" stroke-width="1.15"/>
<rect x="78.35" y="432.9" width="3.3" height="1.3" fill="#1a1a1a"/>
<rect x="93.8" y="440.4" width="16.2" height="69.4" fill="#ffffff"/>
<path d="M93.8 509.8V440.4H110V509.8" fill="none" stroke="#383838" stroke-width="1.1"/>
<line x1="101.7" y1="432.8" x2="101.7" y2="440.4" stroke="#3a3a3a" stroke-width="1.15"/>
<rect x="100.05" y="432.2" width="3.3" height="1.3" fill="#1a1a1a"/>
<rect x="110" y="439.5" width="15.7" height="70.3" fill="#454545"/>
<path d="M110 509.8V439.5H125.7V509.8" fill="none" stroke="#383838" stroke-width="1.1"/>
<line x1="117.65" y1="435.5" x2="117.65" y2="439.5" stroke="#3a3a3a" stroke-width="1.15"/>
<rect x="116" y="434.9" width="3.3" height="1.3" fill="#1a1a1a"/>
<rect x="125.7" y="422.4" width="15.2" height="87.4" fill="#e3e3e3"/>
<path d="M125.7 509.8V422.4H140.9V509.8" fill="none" stroke="#383838" stroke-width="1.1"/>
<line x1="133.1" y1="417.3" x2="133.1" y2="422.4" stroke="#3a3a3a" stroke-width="1.15"/>
<rect x="131.45" y="416.7" width="3.3" height="1.3" fill="#1a1a1a"/>
<rect x="147.4" y="435.8" width="15.6" height="74" fill="#ffffff"/>
<path d="M147.4 509.8V435.8H163V509.8" fill="none" stroke="#383838" stroke-width="1.1"/>
<line x1="155" y1="427.3" x2="155" y2="435.8" stroke="#3a3a3a" stroke-width="1.15"/>
<rect x="153.35" y="426.7" width="3.3" height="1.3" fill="#1a1a1a"/>
<rect x="163" y="441.2" width="15.1" height="68.6" fill="#454545"/>
<path d="M163 509.8V441.2H178.1V509.8" fill="none" stroke="#383838" stroke-width="1.1"/>
<line x1="170.35" y1="435.4" x2="170.35" y2="441.2" stroke="#3a3a3a" stroke-width="1.15"/>
<rect x="168.7" y="434.8" width="3.3" height="1.3" fill="#1a1a1a"/>
<rect x="178.1" y="422.2" width="15.3" height="87.6" fill="#e3e3e3"/>
<path d="M178.1 509.8V422.2H193.4V509.8" fill="none" stroke="#383838" stroke-width="1.1"/>
<line x1="185.55" y1="417.4" x2="185.55" y2="422.2" stroke="#3a3a3a" stroke-width="1.15"/>
<rect x="183.9" y="416.8" width="3.3" height="1.3" fill="#1a1a1a"/>
<rect x="200.4" y="423.2" width="15.1" height="86.6" fill="#ffffff"/>
<path d="M200.4 509.8V423.2H215.5V509.8" fill="none" stroke="#383838" stroke-width="1.1"/>
<line x1="207.75" y1="414.6" x2="207.75" y2="423.2" stroke="#3a3a3a" stroke-width="1.15"/>
<rect x="206.1" y="414" width="3.3" height="1.3" fill="#1a1a1a"/>
<rect x="215.5" y="423.2" width="15.4" height="86.6" fill="#454545"/>
<path d="M215.5 509.8V423.2H230.9V509.8" fill="none" stroke="#383838" stroke-width="1.1"/>
<line x1="223" y1="419.2" x2="223" y2="423.2" stroke="#3a3a3a" stroke-width="1.15"/>
<rect x="221.35" y="418.6" width="3.3" height="1.3" fill="#1a1a1a"/>
<rect x="230.9" y="414.2" width="15.3" height="95.6" fill="#e3e3e3"/>
<path d="M230.9 509.8V414.2H246.2V509.8" fill="none" stroke="#383838" stroke-width="1.1"/>
<line x1="238.35" y1="409.3" x2="238.35" y2="414.2" stroke="#3a3a3a" stroke-width="1.15"/>
<rect x="236.7" y="408.7" width="3.3" height="1.3" fill="#1a1a1a"/>
<path d="M84.5,426.7 L85.21,427.63 L86.31,428.01 L85.64,428.97 L85.62,430.14 L84.5,429.8 L83.38,430.14 L83.36,428.97 L82.69,428.01 L83.79,427.63Z" fill="#111" stroke="#111" stroke-width="0.6" stroke-linejoin="round"/>
<path d="M137.5,411.9 L138.21,412.83 L139.31,413.21 L138.64,414.17 L138.62,415.34 L137.5,415 L136.38,415.34 L136.36,414.17 L135.69,413.21 L136.79,412.83Z" fill="#111" stroke="#111" stroke-width="0.6" stroke-linejoin="round"/>
<path d="M189.6,410.5 L190.31,411.43 L191.41,411.81 L190.74,412.77 L190.72,413.94 L189.6,413.6 L188.48,413.94 L188.46,412.77 L187.79,411.81 L188.89,411.43Z" fill="#111" stroke="#111" stroke-width="0.6" stroke-linejoin="round"/>
<rect x="49.9" y="376" width="8.6" height="7.8" fill="#ffffff" stroke="#6a6a6a" stroke-width="1.1"/>
<text x="61.1" y="384" font-size="10" font-weight="bold" text-anchor="start" fill="#111" stroke="#111" stroke-width="0.55">WT</text>
<rect x="49.9" y="388.7" width="8.6" height="7.5" fill="#5a5a5a" stroke="#3a3a3a" stroke-width="1.1"/>
<text x="61.1" y="396.2" font-size="10" font-weight="bold" text-anchor="start" fill="#111" stroke="#111" stroke-width="0.55">DT-</text>
<rect x="49.9" y="401.4" width="8.6" height="8.3" fill="#e3e3e3" stroke="#6a6a6a" stroke-width="1.1"/>
<text x="61.1" y="410" font-size="10" font-weight="bold" text-anchor="start" fill="#111" stroke="#111" stroke-width="0.55">DT <tspan dx="1.5">++</tspan></text>
<text x="120.2" y="389.1" font-size="12.4" font-weight="normal" text-anchor="start" fill="#111" stroke="#111" stroke-width="0.35">T2 B cells</text>
<text x="63.1" y="521" font-size="10" font-weight="bold" text-anchor="middle" fill="#111" stroke="#111" stroke-width="0.55">1</text>
<text x="117" y="521" font-size="10" font-weight="bold" text-anchor="middle" fill="#111" stroke="#111" stroke-width="0.55">5</text>
<text x="168.6" y="521" font-size="10" font-weight="bold" text-anchor="middle" fill="#111" stroke="#111" stroke-width="0.55">10</text>
<text x="201.2" y="521.4" font-size="10.4" font-weight="bold" text-anchor="start" fill="#111" stroke="#111" stroke-width="0.55">50 µg/ml</text>
<text transform="translate(15.8,437.9) rotate(-90)" x="0" y="0" font-size="10.6" font-weight="bold" text-anchor="middle" fill="#111" stroke="#111" stroke-width="0.55">% specific apoptosis</text>
<line x1="295.5" y1="367" x2="295.5" y2="510.3" stroke="#222" stroke-width="1.1"/>
<line x1="295.5" y1="510.3" x2="511.2" y2="510.3" stroke="#222" stroke-width="1.2"/>
<line x1="292.5" y1="510.3" x2="295.5" y2="510.3" stroke="#222" stroke-width="1"/>
<text transform="translate(289,514.21) scale(0.85,1)" font-size="9.3" text-anchor="end" fill="#222" stroke="#222" stroke-width="0.2">0</text>
<line x1="293.9" y1="495.97" x2="295.5" y2="495.97" stroke="#222" stroke-width="1"/>
<line x1="292.5" y1="481.64" x2="295.5" y2="481.64" stroke="#222" stroke-width="1"/>
<text transform="translate(289,485.55) scale(0.85,1)" font-size="9.3" text-anchor="end" fill="#222" stroke="#222" stroke-width="0.2">20</text>
<line x1="293.9" y1="467.31" x2="295.5" y2="467.31" stroke="#222" stroke-width="1"/>
<line x1="292.5" y1="452.98" x2="295.5" y2="452.98" stroke="#222" stroke-width="1"/>
<text transform="translate(289,456.89) scale(0.85,1)" font-size="9.3" text-anchor="end" fill="#222" stroke="#222" stroke-width="0.2">40</text>
<line x1="293.9" y1="438.65" x2="295.5" y2="438.65" stroke="#222" stroke-width="1"/>
<line x1="292.5" y1="424.32" x2="295.5" y2="424.32" stroke="#222" stroke-width="1"/>
<text transform="translate(289,428.23) scale(0.85,1)" font-size="9.3" text-anchor="end" fill="#222" stroke="#222" stroke-width="0.2">60</text>
<line x1="293.9" y1="409.99" x2="295.5" y2="409.99" stroke="#222" stroke-width="1"/>
<line x1="292.5" y1="395.66" x2="295.5" y2="395.66" stroke="#222" stroke-width="1"/>
<text transform="translate(289,399.57) scale(0.85,1)" font-size="9.3" text-anchor="end" fill="#222" stroke="#222" stroke-width="0.2">80</text>
<line x1="293.9" y1="381.33" x2="295.5" y2="381.33" stroke="#222" stroke-width="1"/>
<line x1="292.5" y1="367" x2="295.5" y2="367" stroke="#222" stroke-width="1"/>
<text transform="translate(289,370.91) scale(0.85,1)" font-size="9.3" text-anchor="end" fill="#222" stroke="#222" stroke-width="0.2">100</text>
<line x1="322.6" y1="510.3" x2="322.6" y2="512.8" stroke="#222" stroke-width="1"/>
<line x1="376.7" y1="510.3" x2="376.7" y2="512.8" stroke="#222" stroke-width="1"/>
<line x1="430.4" y1="510.3" x2="430.4" y2="512.8" stroke="#222" stroke-width="1"/>
<line x1="484.8" y1="510.3" x2="484.8" y2="512.8" stroke="#222" stroke-width="1"/>
<rect x="298.9" y="489.6" width="16.3" height="20.7" fill="#ffffff"/>
<path d="M298.9 510.3V489.6H315.2V510.3" fill="none" stroke="#383838" stroke-width="1.1"/>
<line x1="306.85" y1="486.3" x2="306.85" y2="489.6" stroke="#3a3a3a" stroke-width="1.15"/>
<rect x="305.2" y="485.7" width="3.3" height="1.3" fill="#1a1a1a"/>
<rect x="315.2" y="480.6" width="15.5" height="29.7" fill="#454545"/>
<path d="M315.2 510.3V480.6H330.7V510.3" fill="none" stroke="#383838" stroke-width="1.1"/>
<line x1="322.75" y1="471.3" x2="322.75" y2="480.6" stroke="#3a3a3a" stroke-width="1.15"/>
<rect x="321.1" y="470.7" width="3.3" height="1.3" fill="#1a1a1a"/>
<rect x="330.7" y="451.3" width="15.2" height="59" fill="#e3e3e3"/>
<path d="M330.7 510.3V451.3H345.9V510.3" fill="none" stroke="#383838" stroke-width="1.1"/>
<line x1="338.1" y1="447.9" x2="338.1" y2="451.3" stroke="#3a3a3a" stroke-width="1.15"/>
<rect x="336.45" y="447.3" width="3.3" height="1.3" fill="#1a1a1a"/>
<rect x="353.2" y="447.3" width="15.5" height="63" fill="#ffffff"/>
<path d="M353.2 510.3V447.3H368.7V510.3" fill="none" stroke="#383838" stroke-width="1.1"/>
<line x1="360.75" y1="443.1" x2="360.75" y2="447.3" stroke="#3a3a3a" stroke-width="1.15"/>
<rect x="359.1" y="442.5" width="3.3" height="1.3" fill="#1a1a1a"/>
<rect x="368.7" y="461.3" width="15.7" height="49" fill="#454545"/>
<path d="M368.7 510.3V461.3H384.4V510.3" fill="none" stroke="#383838" stroke-width="1.1"/>
<line x1="376.35" y1="448.3" x2="376.35" y2="461.3" stroke="#3a3a3a" stroke-width="1.15"/>
<rect x="374.7" y="447.7" width="3.3" height="1.3" fill="#1a1a1a"/>
<rect x="384.4" y="424.6" width="15.8" height="85.7" fill="#e3e3e3"/>
<path d="M384.4 510.3V424.6H400.2V510.3" fill="none" stroke="#383838" stroke-width="1.1"/>
<line x1="392.1" y1="421" x2="392.1" y2="424.6" stroke="#3a3a3a" stroke-width="1.15"/>
<rect x="390.45" y="420.4" width="3.3" height="1.3" fill="#1a1a1a"/>
<rect x="407.3" y="438.9" width="15.9" height="71.4" fill="#ffffff"/>
<path d="M407.3 510.3V438.9H423.2V510.3" fill="none" stroke="#383838" stroke-width="1.1"/>
<line x1="415.05" y1="435.7" x2="415.05" y2="438.9" stroke="#3a3a3a" stroke-width="1.15"/>
<rect x="413.4" y="435.1" width="3.3" height="1.3" fill="#1a1a1a"/>
<rect x="423.2" y="450.5" width="15.5" height="59.8" fill="#454545"/>
<path d="M423.2 510.3V450.5H438.7V510.3" fill="none" stroke="#383838" stroke-width="1.1"/>
<line x1="430.75" y1="441.2" x2="430.75" y2="450.5" stroke="#3a3a3a" stroke-width="1.15"/>
<rect x="429.1" y="440.6" width="3.3" height="1.3" fill="#1a1a1a"/>
<rect x="438.7" y="420" width="15.7" height="90.3" fill="#e3e3e3"/>
<path d="M438.7 510.3V420H454.4V510.3" fill="none" stroke="#383838" stroke-width="1.1"/>
<line x1="446.35" y1="417.2" x2="446.35" y2="420" stroke="#3a3a3a" stroke-width="1.15"/>
<rect x="444.7" y="416.6" width="3.3" height="1.3" fill="#1a1a1a"/>
<rect x="461" y="425.3" width="16" height="85" fill="#ffffff"/>
<path d="M461 510.3V425.3H477V510.3" fill="none" stroke="#383838" stroke-width="1.1"/>
<line x1="468.8" y1="421.2" x2="468.8" y2="425.3" stroke="#3a3a3a" stroke-width="1.15"/>
<rect x="467.15" y="420.6" width="3.3" height="1.3" fill="#1a1a1a"/>
<rect x="477" y="432.7" width="15.9" height="77.6" fill="#454545"/>
<path d="M477 510.3V432.7H492.9V510.3" fill="none" stroke="#383838" stroke-width="1.1"/>
<line x1="484.75" y1="428.8" x2="484.75" y2="432.7" stroke="#3a3a3a" stroke-width="1.15"/>
<rect x="483.1" y="428.2" width="3.3" height="1.3" fill="#1a1a1a"/>
<rect x="492.9" y="408.9" width="15.5" height="101.4" fill="#e3e3e3"/>
<path d="M492.9 510.3V408.9H508.4V510.3" fill="none" stroke="#383838" stroke-width="1.1"/>
<line x1="500.45" y1="406.6" x2="500.45" y2="408.9" stroke="#3a3a3a" stroke-width="1.15"/>
<rect x="498.8" y="406" width="3.3" height="1.3" fill="#1a1a1a"/>
<path d="M336.6,442.8 L337.31,443.73 L338.41,444.11 L337.74,445.07 L337.72,446.24 L336.6,445.9 L335.48,446.24 L335.46,445.07 L334.79,444.11 L335.89,443.73Z" fill="#111" stroke="#111" stroke-width="0.6" stroke-linejoin="round"/>
<path d="M341.4,442.8 L342.11,443.73 L343.21,444.11 L342.54,445.07 L342.52,446.24 L341.4,445.9 L340.28,446.24 L340.26,445.07 L339.59,444.11 L340.69,443.73Z" fill="#111" stroke="#111" stroke-width="0.6" stroke-linejoin="round"/>
<path d="M390.7,417.5 L391.41,418.43 L392.51,418.81 L391.84,419.77 L391.82,420.94 L390.7,420.6 L389.58,420.94 L389.56,419.77 L388.89,418.81 L389.99,418.43Z" fill="#111" stroke="#111" stroke-width="0.6" stroke-linejoin="round"/>
<path d="M395.5,417.5 L396.21,418.43 L397.31,418.81 L396.64,419.77 L396.62,420.94 L395.5,420.6 L394.38,420.94 L394.36,419.77 L393.69,418.81 L394.79,418.43Z" fill="#111" stroke="#111" stroke-width="0.6" stroke-linejoin="round"/>
<path d="M444.6,412 L445.31,412.93 L446.41,413.31 L445.74,414.27 L445.72,415.44 L444.6,415.1 L443.48,415.44 L443.46,414.27 L442.79,413.31 L443.89,412.93Z" fill="#111" stroke="#111" stroke-width="0.6" stroke-linejoin="round"/>
<path d="M449.4,412 L450.11,412.93 L451.21,413.31 L450.54,414.27 L450.52,415.44 L449.4,415.1 L448.28,415.44 L448.26,414.27 L447.59,413.31 L448.69,412.93Z" fill="#111" stroke="#111" stroke-width="0.6" stroke-linejoin="round"/>
<path d="M498.4,403.2 L499.11,404.13 L500.21,404.51 L499.54,405.47 L499.52,406.64 L498.4,406.3 L497.28,406.64 L497.26,405.47 L496.59,404.51 L497.69,404.13Z" fill="#111" stroke="#111" stroke-width="0.6" stroke-linejoin="round"/>
<path d="M503.2,403.2 L503.91,404.13 L505.01,404.51 L504.34,405.47 L504.32,406.64 L503.2,406.3 L502.08,406.64 L502.06,405.47 L501.39,404.51 L502.49,404.13Z" fill="#111" stroke="#111" stroke-width="0.6" stroke-linejoin="round"/>
<rect x="302.1" y="378.8" width="8.8" height="8.2" fill="#ffffff" stroke="#6a6a6a" stroke-width="1.1"/>
<text x="313.7" y="387.2" font-size="10" font-weight="bold" text-anchor="start" fill="#111" stroke="#111" stroke-width="0.55">WT</text>
<rect x="302.1" y="391.8" width="8.8" height="7.4" fill="#5a5a5a" stroke="#3a3a3a" stroke-width="1.1"/>
<text x="313.7" y="399.6" font-size="10" font-weight="bold" text-anchor="start" fill="#111" stroke="#111" stroke-width="0.55">DT-</text>
<rect x="302.1" y="404.9" width="8.8" height="8.2" fill="#e3e3e3" stroke="#6a6a6a" stroke-width="1.1"/>
<text x="313.7" y="413.2" font-size="10" font-weight="bold" text-anchor="start" fill="#111" stroke="#111" stroke-width="0.55">DT++</text>
<text x="362.8" y="390.8" font-size="12.8" font-weight="normal" text-anchor="start" fill="#111" stroke="#111" stroke-width="0.35">FO B cells</text>
<text x="322" y="523.7" font-size="10" font-weight="bold" text-anchor="middle" fill="#111" stroke="#111" stroke-width="0.55">1</text>
<text x="376.3" y="523.7" font-size="10" font-weight="bold" text-anchor="middle" fill="#111" stroke="#111" stroke-width="0.55">5</text>
<text x="436.6" y="523.7" font-size="10" font-weight="bold" text-anchor="middle" fill="#111" stroke="#111" stroke-width="0.55">10</text>
<text x="466.9" y="523.9" font-size="10.4" font-weight="bold" text-anchor="start" fill="#111" stroke="#111" stroke-width="0.55">50 µg/ml</text>
<text transform="translate(275.5,441.8) rotate(-90)" x="0" y="0" font-size="10.6" font-weight="bold" text-anchor="middle" fill="#111" stroke="#111" stroke-width="0.55">% specific apoptosis</text>
<text x="380.5" y="531.9" font-size="11.1" font-weight="normal" fill="#111" stroke="#111" stroke-width="0.35"><tspan font-family="Liberation Serif">α</tspan>IgM F(ab)<tspan font-size="7.8" dy="2.6">2</tspan></text>
<text x="114.1" y="531.5" font-size="11.1" font-weight="normal" fill="#111" stroke="#111" stroke-width="0.35"><tspan font-family="Liberation Serif">α</tspan>IgM F(ab)<tspan font-size="7.8" dy="2.6">2</tspan></text>
<line x1="40.5" y1="534.7" x2="40.5" y2="678.3" stroke="#222" stroke-width="1.1"/>
<line x1="37.9" y1="678.3" x2="236.5" y2="678.3" stroke="#222" stroke-width="1.2"/>
<line x1="37.5" y1="678.3" x2="40.5" y2="678.3" stroke="#222" stroke-width="1"/>
<text transform="translate(34,682.21) scale(0.85,1)" font-size="9.3" text-anchor="end" fill="#222" stroke="#222" stroke-width="0.2">0</text>
<line x1="38.9" y1="663.94" x2="40.5" y2="663.94" stroke="#222" stroke-width="1"/>
<line x1="37.5" y1="649.58" x2="40.5" y2="649.58" stroke="#222" stroke-width="1"/>
<text transform="translate(34,653.49) scale(0.85,1)" font-size="9.3" text-anchor="end" fill="#222" stroke="#222" stroke-width="0.2">20</text>
<line x1="38.9" y1="635.22" x2="40.5" y2="635.22" stroke="#222" stroke-width="1"/>
<line x1="37.5" y1="620.86" x2="40.5" y2="620.86" stroke="#222" stroke-width="1"/>
<text transform="translate(34,624.77) scale(0.85,1)" font-size="9.3" text-anchor="end" fill="#222" stroke="#222" stroke-width="0.2">40</text>
<line x1="38.9" y1="606.5" x2="40.5" y2="606.5" stroke="#222" stroke-width="1"/>
<line x1="37.5" y1="592.14" x2="40.5" y2="592.14" stroke="#222" stroke-width="1"/>
<text transform="translate(34,596.05) scale(0.85,1)" font-size="9.3" text-anchor="end" fill="#222" stroke="#222" stroke-width="0.2">60</text>
<line x1="38.9" y1="577.78" x2="40.5" y2="577.78" stroke="#222" stroke-width="1"/>
<line x1="37.5" y1="563.42" x2="40.5" y2="563.42" stroke="#222" stroke-width="1"/>
<text transform="translate(34,567.33) scale(0.85,1)" font-size="9.3" text-anchor="end" fill="#222" stroke="#222" stroke-width="0.2">80</text>
<line x1="38.9" y1="549.06" x2="40.5" y2="549.06" stroke="#222" stroke-width="1"/>
<line x1="37.5" y1="534.7" x2="40.5" y2="534.7" stroke="#222" stroke-width="1"/>
<text transform="translate(34,538.61) scale(0.85,1)" font-size="9.3" text-anchor="end" fill="#222" stroke="#222" stroke-width="0.2">100</text>
<rect x="42.4" y="618.4" width="11.75" height="59.9" fill="#ffffff"/>
<path d="M42.4 678.3V618.4H54.15V678.3" fill="none" stroke="#383838" stroke-width="1.1"/>
<line x1="48.07" y1="603.5" x2="48.07" y2="618.4" stroke="#3a3a3a" stroke-width="1.15"/>
<rect x="46.42" y="602.9" width="3.3" height="1.3" fill="#1a1a1a"/>
<rect x="54.15" y="586.1" width="11.75" height="92.2" fill="#a5a5a5"/>
<path d="M54.15 678.3V586.1H65.9V678.3" fill="none" stroke="#383838" stroke-width="1.1"/>
<line x1="59.83" y1="575.7" x2="59.83" y2="586.1" stroke="#3a3a3a" stroke-width="1.15"/>
<rect x="58.18" y="575.1" width="3.3" height="1.3" fill="#1a1a1a"/>
<rect x="65.9" y="563.9" width="11.75" height="114.4" fill="#000000"/>
<path d="M65.9 678.3V563.9H77.65V678.3" fill="none" stroke="#383838" stroke-width="1.1"/>
<rect x="81.5" y="614.9" width="11.75" height="63.4" fill="#ffffff"/>
<path d="M81.5 678.3V614.9H93.25V678.3" fill="none" stroke="#383838" stroke-width="1.1"/>
<line x1="87.17" y1="609.4" x2="87.17" y2="614.9" stroke="#3a3a3a" stroke-width="1.15"/>
<rect x="85.52" y="608.8" width="3.3" height="1.3" fill="#1a1a1a"/>
<rect x="93.25" y="588.4" width="11.75" height="89.9" fill="#a5a5a5"/>
<path d="M93.25 678.3V588.4H105V678.3" fill="none" stroke="#383838" stroke-width="1.1"/>
<line x1="98.92" y1="579" x2="98.92" y2="588.4" stroke="#3a3a3a" stroke-width="1.15"/>
<rect x="97.27" y="578.4" width="3.3" height="1.3" fill="#1a1a1a"/>
<rect x="105" y="569.8" width="11.75" height="108.5" fill="#000000"/>
<path d="M105 678.3V569.8H116.75V678.3" fill="none" stroke="#383838" stroke-width="1.1"/>
<line x1="110.67" y1="566.9" x2="110.67" y2="569.8" stroke="#3a3a3a" stroke-width="1.15"/>
<rect x="109.02" y="566.3" width="3.3" height="1.3" fill="#1a1a1a"/>
<rect x="121.4" y="623.7" width="11.75" height="54.6" fill="#ffffff"/>
<path d="M121.4 678.3V623.7H133.15V678.3" fill="none" stroke="#383838" stroke-width="1.1"/>
<line x1="127.08" y1="616.6" x2="127.08" y2="623.7" stroke="#3a3a3a" stroke-width="1.15"/>
<rect x="125.42" y="616" width="3.3" height="1.3" fill="#1a1a1a"/>
<rect x="133.15" y="587.2" width="11.75" height="91.1" fill="#a5a5a5"/>
<path d="M133.15 678.3V587.2H144.9V678.3" fill="none" stroke="#383838" stroke-width="1.1"/>
<line x1="138.83" y1="574.2" x2="138.83" y2="587.2" stroke="#3a3a3a" stroke-width="1.15"/>
<rect x="137.18" y="573.6" width="3.3" height="1.3" fill="#1a1a1a"/>
<rect x="144.9" y="566.9" width="11.75" height="111.4" fill="#000000"/>
<path d="M144.9 678.3V566.9H156.65V678.3" fill="none" stroke="#383838" stroke-width="1.1"/>
<line x1="150.58" y1="560" x2="150.58" y2="566.9" stroke="#3a3a3a" stroke-width="1.15"/>
<rect x="148.93" y="559.4" width="3.3" height="1.3" fill="#1a1a1a"/>
<rect x="160.7" y="621.9" width="11.75" height="56.4" fill="#ffffff"/>
<path d="M160.7 678.3V621.9H172.45V678.3" fill="none" stroke="#383838" stroke-width="1.1"/>
<line x1="166.38" y1="616.6" x2="166.38" y2="621.9" stroke="#3a3a3a" stroke-width="1.15"/>
<rect x="164.72" y="616" width="3.3" height="1.3" fill="#1a1a1a"/>
<rect x="172.45" y="586.2" width="11.75" height="92.1" fill="#a5a5a5"/>
<path d="M172.45 678.3V586.2H184.2V678.3" fill="none" stroke="#383838" stroke-width="1.1"/>
<line x1="178.12" y1="575.1" x2="178.12" y2="586.2" stroke="#3a3a3a" stroke-width="1.15"/>
<rect x="176.47" y="574.5" width="3.3" height="1.3" fill="#1a1a1a"/>
<rect x="184.2" y="568.2" width="11.75" height="110.1" fill="#000000"/>
<path d="M184.2 678.3V568.2H195.95V678.3" fill="none" stroke="#383838" stroke-width="1.1"/>
<line x1="189.88" y1="561.5" x2="189.88" y2="568.2" stroke="#3a3a3a" stroke-width="1.15"/>
<rect x="188.22" y="560.9" width="3.3" height="1.3" fill="#1a1a1a"/>
<rect x="199.9" y="654.4" width="11.75" height="23.9" fill="#ffffff"/>
<path d="M199.9 678.3V654.4H211.65V678.3" fill="none" stroke="#383838" stroke-width="1.1"/>
<line x1="205.58" y1="648.4" x2="205.58" y2="654.4" stroke="#3a3a3a" stroke-width="1.15"/>
<rect x="203.93" y="647.8" width="3.3" height="1.3" fill="#1a1a1a"/>
<rect x="211.65" y="639.2" width="11.75" height="39.1" fill="#a5a5a5"/>
<path d="M211.65 678.3V639.2H223.4V678.3" fill="none" stroke="#383838" stroke-width="1.1"/>
<line x1="217.33" y1="633.7" x2="217.33" y2="639.2" stroke="#3a3a3a" stroke-width="1.15"/>
<rect x="215.68" y="633.1" width="3.3" height="1.3" fill="#1a1a1a"/>
<rect x="223.4" y="622.4" width="11.75" height="55.9" fill="#000000"/>
<path d="M223.4 678.3V622.4H235.15V678.3" fill="none" stroke="#383838" stroke-width="1.1"/>
<line x1="229.08" y1="618.7" x2="229.08" y2="622.4" stroke="#3a3a3a" stroke-width="1.15"/>
<rect x="227.43" y="618.1" width="3.3" height="1.3" fill="#1a1a1a"/>
<path d="M203,642.3 L203.71,643.23 L204.81,643.61 L204.14,644.57 L204.12,645.74 L203,645.4 L201.88,645.74 L201.86,644.57 L201.19,643.61 L202.29,643.23Z" fill="#111" stroke="#111" stroke-width="0.6" stroke-linejoin="round"/>
<path d="M207.8,642.3 L208.51,643.23 L209.61,643.61 L208.94,644.57 L208.92,645.74 L207.8,645.4 L206.68,645.74 L206.66,644.57 L205.99,643.61 L207.09,643.23Z" fill="#111" stroke="#111" stroke-width="0.6" stroke-linejoin="round"/>
<path d="M215.8,629.4 L216.51,630.33 L217.61,630.71 L216.94,631.67 L216.92,632.84 L215.8,632.5 L214.68,632.84 L214.66,631.67 L213.99,630.71 L215.09,630.33Z" fill="#111" stroke="#111" stroke-width="0.6" stroke-linejoin="round"/>
<path d="M220.6,629.4 L221.31,630.33 L222.41,630.71 L221.74,631.67 L221.72,632.84 L220.6,632.5 L219.48,632.84 L219.46,631.67 L218.79,630.71 L219.89,630.33Z" fill="#111" stroke="#111" stroke-width="0.6" stroke-linejoin="round"/>
<path d="M227.7,612.8 L228.41,613.73 L229.51,614.11 L228.84,615.07 L228.82,616.24 L227.7,615.9 L226.58,616.24 L226.56,615.07 L225.89,614.11 L226.99,613.73Z" fill="#111" stroke="#111" stroke-width="0.6" stroke-linejoin="round"/>
<path d="M232.5,612.8 L233.21,613.73 L234.31,614.11 L233.64,615.07 L233.62,616.24 L232.5,615.9 L231.38,616.24 L231.36,615.07 L230.69,614.11 L231.79,613.73Z" fill="#111" stroke="#111" stroke-width="0.6" stroke-linejoin="round"/>
<text x="61.3" y="694.2" font-size="10" font-weight="bold" text-anchor="middle" fill="#111" stroke="#111" stroke-width="0.55">WT</text>
<text x="99" y="694.2" font-size="10" font-weight="bold" text-anchor="middle" fill="#111" stroke="#111" stroke-width="0.55">TREA1</text>
<text x="139.8" y="694.2" font-size="10" font-weight="bold" text-anchor="middle" fill="#111" stroke="#111" stroke-width="0.55">DT</text>
<text x="179.2" y="694.2" font-size="10" font-weight="bold" text-anchor="middle" fill="#111" stroke="#111" stroke-width="0.55">DT+</text>
<text x="218.3" y="694.2" font-size="10" font-weight="bold" text-anchor="middle" fill="#111" stroke="#111" stroke-width="0.55">DT++</text>
<line x1="124.1" y1="698.8" x2="237.1" y2="698.8" stroke="#222" stroke-width="1"/>
<text x="171.6" y="712" font-size="10" font-weight="bold" text-anchor="middle" fill="#111" stroke="#111" stroke-width="0.55">eGFP</text>
<text transform="translate(19.1,609.7) rotate(-90)" x="0" y="0" font-size="10.8" font-weight="bold" text-anchor="middle" fill="#111" stroke="#111" stroke-width="0.55">% proliferating CD19+ cells</text>
<line x1="295" y1="534.8" x2="295" y2="678.4" stroke="#222" stroke-width="1.1"/>
<line x1="292.4" y1="678.4" x2="402.5" y2="678.4" stroke="#222" stroke-width="1.2"/>
<line x1="292" y1="678.4" x2="295" y2="678.4" stroke="#222" stroke-width="1"/>
<text transform="translate(288.5,682.31) scale(0.85,1)" font-size="9.3" text-anchor="end" fill="#222" stroke="#222" stroke-width="0.2">0</text>
<line x1="293.4" y1="664.04" x2="295" y2="664.04" stroke="#222" stroke-width="1"/>
<line x1="292" y1="649.68" x2="295" y2="649.68" stroke="#222" stroke-width="1"/>
<text transform="translate(288.5,653.59) scale(0.85,1)" font-size="9.3" text-anchor="end" fill="#222" stroke="#222" stroke-width="0.2">20</text>
<line x1="293.4" y1="635.32" x2="295" y2="635.32" stroke="#222" stroke-width="1"/>
<line x1="292" y1="620.96" x2="295" y2="620.96" stroke="#222" stroke-width="1"/>
<text transform="translate(288.5,624.87) scale(0.85,1)" font-size="9.3" text-anchor="end" fill="#222" stroke="#222" stroke-width="0.2">40</text>
<line x1="293.4" y1="606.6" x2="295" y2="606.6" stroke="#222" stroke-width="1"/>
<line x1="292" y1="592.24" x2="295" y2="592.24" stroke="#222" stroke-width="1"/>
<text transform="translate(288.5,596.15) scale(0.85,1)" font-size="9.3" text-anchor="end" fill="#222" stroke="#222" stroke-width="0.2">60</text>
<line x1="293.4" y1="577.88" x2="295" y2="577.88" stroke="#222" stroke-width="1"/>
<line x1="292" y1="563.52" x2="295" y2="563.52" stroke="#222" stroke-width="1"/>
<text transform="translate(288.5,567.43) scale(0.85,1)" font-size="9.3" text-anchor="end" fill="#222" stroke="#222" stroke-width="0.2">80</text>
<line x1="293.4" y1="549.16" x2="295" y2="549.16" stroke="#222" stroke-width="1"/>
<line x1="292" y1="534.8" x2="295" y2="534.8" stroke="#222" stroke-width="1"/>
<text transform="translate(288.5,538.71) scale(0.85,1)" font-size="9.3" text-anchor="end" fill="#222" stroke="#222" stroke-width="0.2">100</text>
<rect x="298.6" y="639.5" width="15.75" height="38.9" fill="#ffffff"/>
<path d="M298.6 678.4V639.5H314.35V678.4" fill="none" stroke="#383838" stroke-width="1.1"/>
<line x1="306.28" y1="630" x2="306.28" y2="639.5" stroke="#3a3a3a" stroke-width="1.15"/>
<rect x="304.63" y="629.4" width="3.3" height="1.3" fill="#1a1a1a"/>
<rect x="314.35" y="612.5" width="15.75" height="65.9" fill="#8e8e8e"/>
<path d="M314.35 678.4V612.5H330.1V678.4" fill="none" stroke="#383838" stroke-width="1.1"/>
<line x1="322.03" y1="601.3" x2="322.03" y2="612.5" stroke="#3a3a3a" stroke-width="1.15"/>
<rect x="320.38" y="600.7" width="3.3" height="1.3" fill="#1a1a1a"/>
<rect x="330.1" y="610" width="15.75" height="68.4" fill="#000000"/>
<path d="M330.1 678.4V610H345.85V678.4" fill="none" stroke="#383838" stroke-width="1.1"/>
<line x1="337.78" y1="592.5" x2="337.78" y2="610" stroke="#3a3a3a" stroke-width="1.15"/>
<rect x="336.13" y="591.9" width="3.3" height="1.3" fill="#1a1a1a"/>
<rect x="352.5" y="663" width="15.75" height="15.4" fill="#ffffff"/>
<path d="M352.5 678.4V663H368.25V678.4" fill="none" stroke="#383838" stroke-width="1.1"/>
<line x1="360.18" y1="659.5" x2="360.18" y2="663" stroke="#3a3a3a" stroke-width="1.15"/>
<rect x="358.53" y="658.9" width="3.3" height="1.3" fill="#1a1a1a"/>
<rect x="368.25" y="657.5" width="15.75" height="20.9" fill="#8e8e8e"/>
<path d="M368.25 678.4V657.5H384V678.4" fill="none" stroke="#383838" stroke-width="1.1"/>
<line x1="375.93" y1="651.3" x2="375.93" y2="657.5" stroke="#3a3a3a" stroke-width="1.15"/>
<rect x="374.28" y="650.7" width="3.3" height="1.3" fill="#1a1a1a"/>
<rect x="384" y="652" width="15.75" height="26.4" fill="#000000"/>
<path d="M384 678.4V652H399.75V678.4" fill="none" stroke="#383838" stroke-width="1.1"/>
<line x1="391.68" y1="646.3" x2="391.68" y2="652" stroke="#3a3a3a" stroke-width="1.15"/>
<rect x="390.03" y="645.7" width="3.3" height="1.3" fill="#1a1a1a"/>
<path d="M359.5,653.2 L360.21,654.13 L361.31,654.51 L360.64,655.47 L360.62,656.64 L359.5,656.3 L358.38,656.64 L358.36,655.47 L357.69,654.51 L358.79,654.13Z" fill="#111" stroke="#111" stroke-width="0.6" stroke-linejoin="round"/>
<path d="M364.3,653.2 L365.01,654.13 L366.11,654.51 L365.44,655.47 L365.42,656.64 L364.3,656.3 L363.18,656.64 L363.16,655.47 L362.49,654.51 L363.59,654.13Z" fill="#111" stroke="#111" stroke-width="0.6" stroke-linejoin="round"/>
<path d="M375.7,644.5 L376.41,645.43 L377.51,645.81 L376.84,646.77 L376.82,647.94 L375.7,647.6 L374.58,647.94 L374.56,646.77 L373.89,645.81 L374.99,645.43Z" fill="#111" stroke="#111" stroke-width="0.6" stroke-linejoin="round"/>
<path d="M380.5,644.5 L381.21,645.43 L382.31,645.81 L381.64,646.77 L381.62,647.94 L380.5,647.6 L379.38,647.94 L379.36,646.77 L378.69,645.81 L379.79,645.43Z" fill="#111" stroke="#111" stroke-width="0.6" stroke-linejoin="round"/>
<path d="M391.7,639 L392.41,639.93 L393.51,640.31 L392.84,641.27 L392.82,642.44 L391.7,642.1 L390.58,642.44 L390.56,641.27 L389.89,640.31 L390.99,639.93Z" fill="#111" stroke="#111" stroke-width="0.6" stroke-linejoin="round"/>
<path d="M396.5,639 L397.21,639.93 L398.31,640.31 L397.64,641.27 L397.62,642.44 L396.5,642.1 L395.38,642.44 L395.36,641.27 L394.69,640.31 L395.79,639.93Z" fill="#111" stroke="#111" stroke-width="0.6" stroke-linejoin="round"/>
<text x="321.9" y="694.2" font-size="10" font-weight="bold" text-anchor="middle" fill="#111" stroke="#111" stroke-width="0.55">WT</text>
<text x="376.6" y="694.2" font-size="10" font-weight="bold" text-anchor="middle" fill="#111" stroke="#111" stroke-width="0.55">VVA1.2</text>
<text transform="translate(275.8,606.8) rotate(-90)" x="0" y="0" font-size="10.5" font-weight="bold" text-anchor="middle" fill="#111" stroke="#111" stroke-width="0.55">% proliferating CD19+ cells</text>
<rect x="423.1" y="597.9" width="8.7" height="7.8" fill="#ffffff" stroke="#666" stroke-width="1.1"/>
<rect x="423.1" y="611.3" width="8.7" height="8.2" fill="#adadad" stroke="#666" stroke-width="1.1"/>
<rect x="423.1" y="625.6" width="8.7" height="7.7" fill="#000000" stroke="#666" stroke-width="1.1"/>
<text x="433.8" y="606.6" font-size="11.1" font-weight="bold" fill="#111" stroke="#111" stroke-width="0.55"><tspan font-family="Liberation Serif" font-weight="bold">α</tspan>CD40</text>
<text x="433.8" y="620" font-size="11.1" font-weight="bold" text-anchor="start" fill="#111" stroke="#111" stroke-width="0.55">CpG</text>
<text x="433.8" y="633.1" font-size="11.1" font-weight="bold" fill="#111" stroke="#111" stroke-width="0.55"><tspan font-family="Liberation Serif" font-weight="bold">α</tspan>IgM F(ab)2</text>
</g>
</svg>
</body></html>
